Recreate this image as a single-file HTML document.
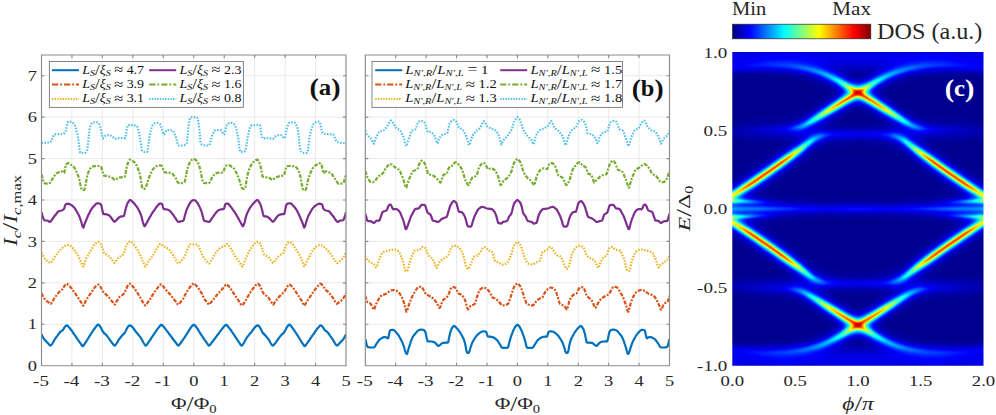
<!DOCTYPE html>
<html><head><meta charset="utf-8"><title>figure</title>
<style>html,body{margin:0;padding:0;background:#fff}svg{display:block}text{font-family:"Liberation Serif",serif}.wg stop{stop-color:#fff}</style></head><body>
<svg width="996" height="415" viewBox="0 0 996 415">
<rect width="996" height="415" fill="#fff"/>
<path d="M71.95 55.0V365.7M102.40 55.0V365.7M132.85 55.0V365.7M163.30 55.0V365.7M193.75 55.0V365.7M224.20 55.0V365.7M254.65 55.0V365.7M285.10 55.0V365.7M315.55 55.0V365.7M41.5 324.27H346.0M41.5 282.85H346.0M41.5 241.42H346.0M41.5 199.99H346.0M41.5 158.57H346.0M41.5 117.14H346.0M41.5 75.71H346.0" stroke="#eaeaea" stroke-width="1" fill="none"/>
<clipPath id="cp41"><rect x="41.5" y="55.0" width="304.5" height="310.7"/></clipPath>
<g clip-path="url(#cp41)" fill="none" stroke-width="2.2" stroke-linejoin="round">
<path d="M41.5 334.2L42.3 335.9L43.0 337.4L43.8 338.6L44.5 339.6L45.3 340.4L46.1 341.3L46.8 342.1L47.6 342.8L48.4 343.6L49.1 344.6L49.9 345.5L50.6 345.5L51.4 344.9L52.2 343.9L52.9 342.6L53.7 341.3L54.4 339.9L55.2 338.8L56.0 337.7L56.7 336.6L57.5 335.6L58.2 334.5L59.0 333.5L59.8 332.5L60.5 331.7L61.3 331.1L62.1 330.6L62.8 330.1L63.6 329.0L64.3 327.6L65.1 326.6L65.9 325.8L66.6 325.3L67.4 325.6L68.1 326.3L68.9 327.2L69.7 328.0L70.4 329.0L71.2 330.0L72.0 331.0L72.7 332.1L73.5 333.3L74.2 334.4L75.0 335.5L75.8 336.5L76.5 337.6L77.3 338.8L78.0 339.9L78.8 341.0L79.6 342.1L80.3 343.1L81.1 344.2L81.8 345.3L82.6 346.2L83.4 345.8L84.1 344.7L84.9 343.5L85.7 342.4L86.4 341.2L87.2 340.0L87.9 338.7L88.7 337.5L89.5 336.2L90.2 335.0L91.0 333.9L91.7 332.7L92.5 331.6L93.3 330.4L94.0 329.3L94.8 328.3L95.5 327.3L96.3 326.3L97.1 325.3L97.8 324.6L98.6 324.7L99.4 325.5L100.1 326.5L100.9 327.7L101.6 329.2L102.4 330.6L103.2 332.0L103.9 333.0L104.7 333.6L105.4 334.2L106.2 335.0L107.0 335.9L107.7 336.9L108.5 337.9L109.3 339.0L110.0 340.1L110.8 341.2L111.5 342.2L112.3 343.2L113.1 344.1L113.8 345.2L114.6 345.6L115.3 345.2L116.1 344.2L116.9 343.0L117.6 341.7L118.4 340.3L119.1 339.2L119.9 338.2L120.7 337.3L121.4 336.3L122.2 335.4L123.0 334.6L123.7 333.9L124.5 333.1L125.2 332.0L126.0 330.5L126.8 328.8L127.5 327.4L128.3 326.4L129.0 325.7L129.8 325.3L130.6 325.6L131.3 326.1L132.1 326.7L132.8 327.6L133.6 328.5L134.4 329.6L135.1 330.7L135.9 331.7L136.7 332.7L137.4 333.6L138.2 334.5L138.9 335.4L139.7 336.4L140.5 337.4L141.2 338.5L142.0 339.8L142.7 341.3L143.5 342.8L144.3 343.9L145.0 345.0L145.8 345.6L146.6 345.2L147.3 344.1L148.1 342.9L148.8 341.9L149.6 340.7L150.4 339.6L151.1 338.4L151.9 337.2L152.6 336.1L153.4 334.9L154.2 333.8L154.9 332.7L155.7 331.6L156.4 330.5L157.2 329.4L158.0 328.4L158.7 327.4L159.5 326.5L160.3 325.6L161.0 324.9L161.8 324.8L162.5 325.5L163.3 326.3L164.1 327.2L164.8 328.1L165.6 329.1L166.3 330.1L167.1 331.1L167.9 332.2L168.6 333.2L169.4 334.2L170.2 335.2L170.9 336.2L171.7 337.2L172.4 338.3L173.2 339.3L174.0 340.3L174.7 341.3L175.5 342.2L176.2 343.2L177.0 344.2L177.8 345.2L178.5 345.6L179.3 345.0L180.0 343.9L180.8 342.7L181.6 341.7L182.3 340.6L183.1 339.6L183.9 338.4L184.6 337.3L185.4 336.2L186.1 335.0L186.9 333.9L187.7 332.6L188.4 331.4L189.2 330.1L189.9 328.9L190.7 327.8L191.5 326.8L192.2 325.9L193.0 325.2L193.8 324.7L194.5 325.2L195.3 325.9L196.0 326.8L196.8 327.8L197.6 328.9L198.3 330.1L199.1 331.4L199.8 332.6L200.6 333.9L201.4 335.0L202.1 336.2L202.9 337.3L203.6 338.4L204.4 339.6L205.2 340.6L205.9 341.7L206.7 342.7L207.5 343.9L208.2 345.0L209.0 345.6L209.7 345.2L210.5 344.2L211.3 343.2L212.0 342.2L212.8 341.3L213.5 340.3L214.3 339.3L215.1 338.3L215.8 337.2L216.6 336.2L217.3 335.2L218.1 334.2L218.9 333.2L219.6 332.2L220.4 331.1L221.2 330.1L221.9 329.1L222.7 328.1L223.4 327.2L224.2 326.3L225.0 325.5L225.7 324.8L226.5 324.9L227.2 325.6L228.0 326.5L228.8 327.4L229.5 328.4L230.3 329.4L231.1 330.5L231.8 331.6L232.6 332.7L233.3 333.8L234.1 334.9L234.9 336.1L235.6 337.2L236.4 338.4L237.1 339.6L237.9 340.7L238.7 341.9L239.4 342.9L240.2 344.1L240.9 345.2L241.7 345.6L242.5 345.0L243.2 343.9L244.0 342.8L244.8 341.3L245.5 339.8L246.3 338.5L247.0 337.4L247.8 336.4L248.6 335.4L249.3 334.5L250.1 333.6L250.8 332.7L251.6 331.7L252.4 330.7L253.1 329.6L253.9 328.5L254.7 327.6L255.4 326.7L256.2 326.1L256.9 325.6L257.7 325.3L258.5 325.7L259.2 326.4L260.0 327.4L260.7 328.8L261.5 330.5L262.3 332.0L263.0 333.1L263.8 333.9L264.5 334.6L265.3 335.4L266.1 336.3L266.8 337.3L267.6 338.2L268.4 339.2L269.1 340.3L269.9 341.7L270.6 343.0L271.4 344.2L272.2 345.2L272.9 345.6L273.7 345.2L274.4 344.1L275.2 343.2L276.0 342.2L276.7 341.2L277.5 340.1L278.2 339.0L279.0 337.9L279.8 336.9L280.5 335.9L281.3 335.0L282.1 334.2L282.8 333.6L283.6 333.0L284.3 332.0L285.1 330.6L285.9 329.2L286.6 327.7L287.4 326.5L288.1 325.5L288.9 324.7L289.7 324.6L290.4 325.3L291.2 326.3L292.0 327.3L292.7 328.3L293.5 329.3L294.2 330.4L295.0 331.6L295.8 332.7L296.5 333.9L297.3 335.0L298.0 336.2L298.8 337.5L299.6 338.7L300.3 340.0L301.1 341.2L301.8 342.4L302.6 343.5L303.4 344.7L304.1 345.8L304.9 346.2L305.7 345.3L306.4 344.2L307.2 343.1L307.9 342.1L308.7 341.0L309.5 339.9L310.2 338.8L311.0 337.6L311.7 336.5L312.5 335.5L313.3 334.4L314.0 333.3L314.8 332.1L315.6 331.0L316.3 330.0L317.1 329.0L317.8 328.0L318.6 327.2L319.4 326.3L320.1 325.6L320.9 325.3L321.6 325.8L322.4 326.6L323.2 327.6L323.9 329.0L324.7 330.1L325.4 330.6L326.2 331.1L327.0 331.7L327.7 332.5L328.5 333.5L329.3 334.5L330.0 335.6L330.8 336.6L331.5 337.7L332.3 338.8L333.1 339.9L333.8 341.3L334.6 342.6L335.3 343.9L336.1 344.9L336.9 345.5L337.6 345.5L338.4 344.6L339.1 343.6L339.9 342.8L340.7 342.1L341.4 341.3L342.2 340.4L343.0 339.6L343.7 338.6L344.5 337.4L345.2 335.9L346.0 334.2" stroke="#0072BD"/>
<path d="M41.5 293.2L42.3 294.9L43.0 296.4L43.8 297.7L44.5 298.7L45.3 299.7L46.1 300.4L46.8 301.1L47.6 301.6L48.4 302.2L49.1 302.8L49.9 303.5L50.6 303.8L51.4 303.2L52.2 302.0L52.9 300.8L53.7 299.5L54.4 298.1L55.2 296.9L56.0 295.9L56.7 294.9L57.5 294.0L58.2 293.1L59.0 292.3L59.8 291.5L60.5 291.0L61.3 290.4L62.1 289.7L62.8 288.6L63.6 287.3L64.3 286.1L65.1 285.2L65.9 284.2L66.6 283.7L67.4 283.9L68.1 284.6L68.9 285.3L69.7 286.1L70.4 287.0L71.2 287.9L72.0 288.9L72.7 290.0L73.5 291.1L74.2 292.1L75.0 293.2L75.8 294.3L76.5 295.4L77.3 296.5L78.0 297.6L78.8 298.8L79.6 299.9L80.3 301.1L81.1 302.3L81.8 303.6L82.6 305.1L83.4 305.6L84.1 304.6L84.9 302.7L85.7 301.1L86.4 299.8L87.2 298.6L87.9 297.4L88.7 296.3L89.5 295.1L90.2 294.0L91.0 292.9L91.7 291.7L92.5 290.6L93.3 289.4L94.0 288.4L94.8 287.4L95.5 286.5L96.3 285.7L97.1 285.1L97.8 284.6L98.6 284.6L99.4 285.4L100.1 286.4L100.9 287.4L101.6 288.9L102.4 290.5L103.2 291.8L103.9 292.6L104.7 293.2L105.4 293.9L106.2 294.6L107.0 295.4L107.7 296.1L108.5 296.9L109.3 297.8L110.0 298.7L110.8 299.7L111.5 300.7L112.3 301.7L113.1 302.9L113.8 304.2L114.6 304.6L115.3 303.8L116.1 302.3L116.9 300.9L117.6 299.8L118.4 298.6L119.1 297.5L119.9 296.7L120.7 296.0L121.4 295.6L122.2 295.1L123.0 294.6L123.7 293.7L124.5 292.6L125.2 291.2L126.0 289.3L126.8 287.5L127.5 286.0L128.3 284.9L129.0 284.0L129.8 283.7L130.6 284.0L131.3 284.7L132.1 285.6L132.8 286.6L133.6 287.5L134.4 288.4L135.1 289.5L135.9 290.6L136.7 291.7L137.4 292.9L138.2 294.1L138.9 295.3L139.7 296.5L140.5 297.9L141.2 299.3L142.0 300.7L142.7 302.0L143.5 303.1L144.3 304.4L145.0 305.3L145.8 305.3L146.6 304.4L147.3 303.1L148.1 301.9L148.8 300.8L149.6 299.7L150.4 298.6L151.1 297.4L151.9 296.2L152.6 295.0L153.4 293.9L154.2 292.8L154.9 291.7L155.7 290.6L156.4 289.4L157.2 288.4L158.0 287.3L158.7 286.4L159.5 285.6L160.3 284.7L161.0 284.3L161.8 284.7L162.5 285.6L163.3 286.5L164.1 287.6L164.8 288.6L165.6 289.5L166.3 290.4L167.1 291.2L167.9 292.0L168.6 292.8L169.4 293.6L170.2 294.5L170.9 295.4L171.7 296.4L172.4 297.3L173.2 298.3L174.0 299.3L174.7 300.3L175.5 301.2L176.2 302.1L177.0 303.2L177.8 304.3L178.5 304.6L179.3 303.9L180.0 302.7L180.8 301.7L181.6 300.9L182.3 300.0L183.1 298.9L183.9 297.5L184.6 295.9L185.4 294.2L186.1 292.8L186.9 291.6L187.7 290.4L188.4 289.3L189.2 288.2L189.9 287.2L190.7 286.3L191.5 285.4L192.2 284.6L193.0 283.9L193.8 283.3L194.5 283.9L195.3 284.6L196.0 285.4L196.8 286.3L197.6 287.2L198.3 288.2L199.1 289.3L199.8 290.4L200.6 291.6L201.4 292.8L202.1 294.2L202.9 295.9L203.6 297.5L204.4 298.9L205.2 300.0L205.9 300.9L206.7 301.7L207.5 302.7L208.2 303.9L209.0 304.6L209.7 304.3L210.5 303.2L211.3 302.1L212.0 301.2L212.8 300.3L213.5 299.3L214.3 298.3L215.1 297.3L215.8 296.4L216.6 295.4L217.3 294.5L218.1 293.6L218.9 292.8L219.6 292.0L220.4 291.2L221.2 290.4L221.9 289.5L222.7 288.6L223.4 287.6L224.2 286.5L225.0 285.6L225.7 284.7L226.5 284.3L227.2 284.7L228.0 285.6L228.8 286.4L229.5 287.3L230.3 288.4L231.1 289.4L231.8 290.6L232.6 291.7L233.3 292.8L234.1 293.9L234.9 295.0L235.6 296.2L236.4 297.4L237.1 298.6L237.9 299.7L238.7 300.8L239.4 301.9L240.2 303.1L240.9 304.4L241.7 305.3L242.5 305.3L243.2 304.4L244.0 303.1L244.8 302.0L245.5 300.7L246.3 299.3L247.0 297.9L247.8 296.5L248.6 295.3L249.3 294.1L250.1 292.9L250.8 291.7L251.6 290.6L252.4 289.5L253.1 288.4L253.9 287.5L254.7 286.6L255.4 285.6L256.2 284.7L256.9 284.0L257.7 283.7L258.5 284.0L259.2 284.9L260.0 286.0L260.7 287.5L261.5 289.3L262.3 291.2L263.0 292.6L263.8 293.7L264.5 294.6L265.3 295.1L266.1 295.6L266.8 296.0L267.6 296.7L268.4 297.5L269.1 298.6L269.9 299.8L270.6 300.9L271.4 302.3L272.2 303.8L272.9 304.6L273.7 304.2L274.4 302.9L275.2 301.7L276.0 300.7L276.7 299.7L277.5 298.7L278.2 297.8L279.0 296.9L279.8 296.1L280.5 295.4L281.3 294.6L282.1 293.9L282.8 293.2L283.6 292.6L284.3 291.8L285.1 290.5L285.9 288.9L286.6 287.4L287.4 286.4L288.1 285.4L288.9 284.6L289.7 284.6L290.4 285.1L291.2 285.7L292.0 286.5L292.7 287.4L293.5 288.4L294.2 289.4L295.0 290.6L295.8 291.7L296.5 292.9L297.3 294.0L298.0 295.1L298.8 296.3L299.6 297.4L300.3 298.6L301.1 299.8L301.8 301.1L302.6 302.7L303.4 304.6L304.1 305.6L304.9 305.1L305.7 303.6L306.4 302.3L307.2 301.1L307.9 299.9L308.7 298.8L309.5 297.6L310.2 296.5L311.0 295.4L311.7 294.3L312.5 293.2L313.3 292.1L314.0 291.1L314.8 290.0L315.6 288.9L316.3 287.9L317.1 287.0L317.8 286.1L318.6 285.3L319.4 284.6L320.1 283.9L320.9 283.7L321.6 284.2L322.4 285.2L323.2 286.1L323.9 287.3L324.7 288.6L325.4 289.7L326.2 290.4L327.0 291.0L327.7 291.5L328.5 292.3L329.3 293.1L330.0 294.0L330.8 294.9L331.5 295.9L332.3 296.9L333.1 298.1L333.8 299.5L334.6 300.8L335.3 302.0L336.1 303.2L336.9 303.8L337.6 303.5L338.4 302.8L339.1 302.2L339.9 301.6L340.7 301.1L341.4 300.4L342.2 299.7L343.0 298.7L343.7 297.7L344.5 296.4L345.2 294.9L346.0 293.2" stroke="#D95319" stroke-dasharray="4 1.4 2 1.4"/>
<path d="M41.5 252.6L42.3 254.1L43.0 255.5L43.8 256.9L44.5 258.2L45.3 259.2L46.1 259.9L46.8 260.5L47.6 261.1L48.4 261.7L49.1 262.4L49.9 262.9L50.6 262.8L51.4 262.1L52.2 261.0L52.9 259.9L53.7 258.8L54.4 257.6L55.2 256.4L56.0 255.3L56.7 254.3L57.5 253.3L58.2 252.4L59.0 251.5L59.8 250.6L60.5 249.8L61.3 249.0L62.1 248.2L62.8 247.5L63.6 246.9L64.3 246.3L65.1 245.7L65.9 245.2L66.6 244.9L67.4 245.0L68.1 245.1L68.9 245.4L69.7 245.7L70.4 246.0L71.2 246.5L72.0 247.1L72.7 248.0L73.5 248.9L74.2 249.8L75.0 250.9L75.8 252.0L76.5 253.2L77.3 254.5L78.0 255.9L78.8 257.5L79.6 259.1L80.3 260.8L81.1 262.4L81.8 264.0L82.6 265.8L83.4 266.4L84.1 264.5L84.9 261.7L85.7 259.9L86.4 258.3L87.2 256.8L87.9 255.4L88.7 254.0L89.5 252.7L90.2 251.5L91.0 250.2L91.7 249.1L92.5 247.8L93.3 246.6L94.0 245.5L94.8 244.5L95.5 243.6L96.3 242.9L97.1 242.3L97.8 241.9L98.6 241.9L99.4 242.5L100.1 243.3L100.9 244.4L101.6 246.1L102.4 248.0L103.2 250.2L103.9 252.4L104.7 253.6L105.4 254.1L106.2 254.4L107.0 254.9L107.7 255.4L108.5 255.9L109.3 256.5L110.0 257.3L110.8 258.3L111.5 259.3L112.3 260.3L113.1 261.5L113.8 262.6L114.6 262.9L115.3 262.1L116.1 260.9L116.9 259.9L117.6 258.8L118.4 257.8L119.1 257.1L119.9 256.6L120.7 256.1L121.4 255.6L122.2 255.2L123.0 254.7L123.7 253.8L124.5 251.6L125.2 248.8L126.0 246.5L126.8 245.0L127.5 243.5L128.3 242.4L129.0 241.9L129.8 241.9L130.6 241.9L131.3 242.0L132.1 242.5L132.8 243.5L133.6 244.5L134.4 245.5L135.1 246.5L135.9 247.5L136.7 248.5L137.4 249.7L138.2 250.9L138.9 252.4L139.7 253.9L140.5 255.6L141.2 257.4L142.0 259.2L142.7 261.1L143.5 262.9L144.3 265.3L145.0 266.5L145.8 266.0L146.6 264.8L147.3 263.4L148.1 262.1L148.8 261.1L149.6 260.1L150.4 259.1L151.1 258.1L151.9 257.0L152.6 255.9L153.4 254.7L154.2 253.3L154.9 251.8L155.7 250.4L156.4 249.0L157.2 247.7L158.0 246.6L158.7 245.5L159.5 244.5L160.3 244.1L161.0 244.3L161.8 244.7L162.5 245.6L163.3 246.4L164.1 246.7L164.8 246.8L165.6 247.1L166.3 247.5L167.1 248.0L167.9 248.6L168.6 249.3L169.4 250.0L170.2 250.8L170.9 251.7L171.7 252.8L172.4 254.0L173.2 255.3L174.0 256.7L174.7 258.0L175.5 259.2L176.2 260.6L177.0 262.0L177.8 263.1L178.5 263.4L179.3 263.0L180.0 262.3L180.8 261.4L181.6 260.5L182.3 259.6L183.1 258.6L183.9 257.4L184.6 256.2L185.4 254.7L186.1 252.8L186.9 250.8L187.7 248.9L188.4 247.3L189.2 245.8L189.9 244.6L190.7 244.3L191.5 244.3L192.2 244.3L193.0 244.3L193.8 244.3L194.5 244.3L195.3 244.3L196.0 244.3L196.8 244.3L197.6 244.6L198.3 245.8L199.1 247.3L199.8 248.9L200.6 250.8L201.4 252.8L202.1 254.7L202.9 256.2L203.6 257.4L204.4 258.6L205.2 259.6L205.9 260.5L206.7 261.4L207.5 262.3L208.2 263.0L209.0 263.4L209.7 263.1L210.5 262.0L211.3 260.6L212.0 259.2L212.8 258.0L213.5 256.7L214.3 255.3L215.1 254.0L215.8 252.8L216.6 251.7L217.3 250.8L218.1 250.0L218.9 249.3L219.6 248.6L220.4 248.0L221.2 247.5L221.9 247.1L222.7 246.8L223.4 246.7L224.2 246.4L225.0 245.6L225.7 244.7L226.5 244.3L227.2 244.1L228.0 244.5L228.8 245.5L229.5 246.6L230.3 247.7L231.1 249.0L231.8 250.4L232.6 251.8L233.3 253.3L234.1 254.7L234.9 255.9L235.6 257.0L236.4 258.1L237.1 259.1L237.9 260.1L238.7 261.1L239.4 262.1L240.2 263.4L240.9 264.8L241.7 266.0L242.5 266.5L243.2 265.3L244.0 262.9L244.8 261.1L245.5 259.2L246.3 257.4L247.0 255.6L247.8 253.9L248.6 252.4L249.3 250.9L250.1 249.7L250.8 248.5L251.6 247.5L252.4 246.5L253.1 245.5L253.9 244.5L254.7 243.5L255.4 242.5L256.2 242.0L256.9 241.9L257.7 241.9L258.5 241.9L259.2 242.4L260.0 243.5L260.7 245.0L261.5 246.5L262.3 248.8L263.0 251.6L263.8 253.8L264.5 254.7L265.3 255.2L266.1 255.6L266.8 256.1L267.6 256.6L268.4 257.1L269.1 257.8L269.9 258.8L270.6 259.9L271.4 260.9L272.2 262.1L272.9 262.9L273.7 262.6L274.4 261.5L275.2 260.3L276.0 259.3L276.7 258.3L277.5 257.3L278.2 256.5L279.0 255.9L279.8 255.4L280.5 254.9L281.3 254.4L282.1 254.1L282.8 253.6L283.6 252.4L284.3 250.2L285.1 248.0L285.9 246.1L286.6 244.4L287.4 243.3L288.1 242.5L288.9 241.9L289.7 241.9L290.4 242.3L291.2 242.9L292.0 243.6L292.7 244.5L293.5 245.5L294.2 246.6L295.0 247.8L295.8 249.1L296.5 250.2L297.3 251.5L298.0 252.7L298.8 254.0L299.6 255.4L300.3 256.8L301.1 258.3L301.8 259.9L302.6 261.7L303.4 264.5L304.1 266.4L304.9 265.8L305.7 264.0L306.4 262.4L307.2 260.8L307.9 259.1L308.7 257.5L309.5 255.9L310.2 254.5L311.0 253.2L311.7 252.0L312.5 250.9L313.3 249.8L314.0 248.9L314.8 248.0L315.6 247.1L316.3 246.5L317.1 246.0L317.8 245.7L318.6 245.4L319.4 245.1L320.1 245.0L320.9 244.9L321.6 245.2L322.4 245.7L323.2 246.3L323.9 246.9L324.7 247.5L325.4 248.2L326.2 249.0L327.0 249.8L327.7 250.6L328.5 251.5L329.3 252.4L330.0 253.3L330.8 254.3L331.5 255.3L332.3 256.4L333.1 257.6L333.8 258.8L334.6 259.9L335.3 261.0L336.1 262.1L336.9 262.8L337.6 262.9L338.4 262.4L339.1 261.7L339.9 261.1L340.7 260.5L341.4 259.9L342.2 259.2L343.0 258.2L343.7 256.9L344.5 255.5L345.2 254.1L346.0 252.6" stroke="#EDB120" stroke-dasharray="1.5 1.5"/>
<path d="M41.5 212.0L42.3 215.1L43.0 217.5L43.8 219.5L44.5 220.2L45.3 220.4L46.1 220.5L46.8 220.5L47.6 220.7L48.4 221.1L49.1 221.7L49.9 221.9L50.6 221.5L51.4 220.5L52.2 219.5L52.9 218.3L53.7 217.2L54.4 216.2L55.2 215.2L56.0 214.3L56.7 213.3L57.5 212.3L58.2 211.5L59.0 211.1L59.8 210.9L60.5 210.7L61.3 210.5L62.1 210.2L62.8 209.9L63.6 209.4L64.3 208.3L65.1 205.3L65.9 204.0L66.6 203.9L67.4 203.8L68.1 203.7L68.9 203.8L69.7 204.1L70.4 204.6L71.2 205.1L72.0 205.5L72.7 206.1L73.5 206.8L74.2 207.6L75.0 208.6L75.8 209.8L76.5 211.1L77.3 212.4L78.0 213.8L78.8 215.3L79.6 217.0L80.3 219.0L81.1 221.3L81.8 223.7L82.6 226.6L83.4 227.7L84.1 225.6L84.9 223.2L85.7 221.3L86.4 219.5L87.2 217.7L87.9 216.0L88.7 214.3L89.5 212.7L90.2 211.2L91.0 209.9L91.7 208.7L92.5 207.7L93.3 206.8L94.0 206.0L94.8 205.3L95.5 204.4L96.3 203.7L97.1 203.3L97.8 203.3L98.6 203.4L99.4 203.5L100.1 203.8L100.9 204.4L101.6 206.2L102.4 210.6L103.2 213.9L103.9 214.1L104.7 214.2L105.4 214.2L106.2 214.3L107.0 214.4L107.7 214.7L108.5 215.1L109.3 215.5L110.0 216.2L110.8 217.2L111.5 218.3L112.3 219.3L113.1 220.5L113.8 221.4L114.6 221.7L115.3 221.3L116.1 220.5L116.9 219.6L117.6 218.9L118.4 218.1L119.1 217.4L119.9 216.9L120.7 216.6L121.4 216.4L122.2 216.3L123.0 216.3L123.7 216.1L124.5 214.1L125.2 210.8L126.0 207.8L126.8 205.2L127.5 203.4L128.3 202.1L129.0 201.0L129.8 200.1L130.6 200.1L131.3 200.6L132.1 201.3L132.8 202.1L133.6 202.8L134.4 203.7L135.1 204.6L135.9 205.6L136.7 206.6L137.4 207.7L138.2 209.0L138.9 210.3L139.7 211.9L140.5 213.7L141.2 215.7L142.0 218.4L142.7 221.6L143.5 224.2L144.3 226.2L145.0 226.1L145.8 224.6L146.6 223.1L147.3 221.7L148.1 220.3L148.8 219.0L149.6 217.6L150.4 216.2L151.1 214.9L151.9 213.7L152.6 212.5L153.4 211.4L154.2 210.3L154.9 209.3L155.7 208.2L156.4 207.1L157.2 206.2L158.0 205.2L158.7 204.3L159.5 203.6L160.3 203.5L161.0 203.6L161.8 203.9L162.5 204.9L163.3 208.5L164.1 209.2L164.8 209.2L165.6 209.3L166.3 209.3L167.1 209.5L167.9 209.7L168.6 210.1L169.4 210.5L170.2 211.2L170.9 212.0L171.7 212.9L172.4 213.9L173.2 214.9L174.0 216.0L174.7 217.1L175.5 218.2L176.2 219.3L177.0 220.5L177.8 221.6L178.5 221.9L179.3 221.8L180.0 221.6L180.8 221.4L181.6 221.2L182.3 221.1L183.1 220.8L183.9 219.7L184.6 216.6L185.4 213.8L186.1 211.2L186.9 209.2L187.7 207.4L188.4 205.9L189.2 204.4L189.9 203.1L190.7 202.1L191.5 201.2L192.2 200.6L193.0 200.2L193.8 200.0L194.5 200.2L195.3 200.6L196.0 201.2L196.8 202.1L197.6 203.1L198.3 204.4L199.1 205.9L199.8 207.4L200.6 209.2L201.4 211.2L202.1 213.8L202.9 216.6L203.6 219.7L204.4 220.8L205.2 221.1L205.9 221.2L206.7 221.4L207.5 221.6L208.2 221.8L209.0 221.9L209.7 221.6L210.5 220.5L211.3 219.3L212.0 218.2L212.8 217.1L213.5 216.0L214.3 214.9L215.1 213.9L215.8 212.9L216.6 212.0L217.3 211.2L218.1 210.5L218.9 210.1L219.6 209.7L220.4 209.5L221.2 209.3L221.9 209.3L222.7 209.2L223.4 209.2L224.2 208.5L225.0 204.9L225.7 203.9L226.5 203.6L227.2 203.5L228.0 203.6L228.8 204.3L229.5 205.2L230.3 206.2L231.1 207.1L231.8 208.2L232.6 209.3L233.3 210.3L234.1 211.4L234.9 212.5L235.6 213.7L236.4 214.9L237.1 216.2L237.9 217.6L238.7 219.0L239.4 220.3L240.2 221.7L240.9 223.1L241.7 224.6L242.5 226.1L243.2 226.2L244.0 224.2L244.8 221.6L245.5 218.4L246.3 215.7L247.0 213.7L247.8 211.9L248.6 210.3L249.3 209.0L250.1 207.7L250.8 206.6L251.6 205.6L252.4 204.6L253.1 203.7L253.9 202.8L254.7 202.1L255.4 201.3L256.2 200.6L256.9 200.1L257.7 200.1L258.5 201.0L259.2 202.1L260.0 203.4L260.7 205.2L261.5 207.8L262.3 210.8L263.0 214.1L263.8 216.1L264.5 216.3L265.3 216.3L266.1 216.4L266.8 216.6L267.6 216.9L268.4 217.4L269.1 218.1L269.9 218.9L270.6 219.6L271.4 220.5L272.2 221.3L272.9 221.7L273.7 221.4L274.4 220.5L275.2 219.3L276.0 218.3L276.7 217.2L277.5 216.2L278.2 215.5L279.0 215.1L279.8 214.7L280.5 214.4L281.3 214.3L282.1 214.2L282.8 214.2L283.6 214.1L284.3 213.9L285.1 210.6L285.9 206.2L286.6 204.4L287.4 203.8L288.1 203.5L288.9 203.4L289.7 203.3L290.4 203.3L291.2 203.7L292.0 204.4L292.7 205.3L293.5 206.0L294.2 206.8L295.0 207.7L295.8 208.7L296.5 209.9L297.3 211.2L298.0 212.7L298.8 214.3L299.6 216.0L300.3 217.7L301.1 219.5L301.8 221.3L302.6 223.2L303.4 225.6L304.1 227.7L304.9 226.6L305.7 223.7L306.4 221.3L307.2 219.0L307.9 217.0L308.7 215.3L309.5 213.8L310.2 212.4L311.0 211.1L311.7 209.8L312.5 208.6L313.3 207.6L314.0 206.8L314.8 206.1L315.6 205.5L316.3 205.1L317.1 204.6L317.8 204.1L318.6 203.8L319.4 203.7L320.1 203.8L320.9 203.9L321.6 204.0L322.4 205.3L323.2 208.3L323.9 209.4L324.7 209.9L325.4 210.2L326.2 210.5L327.0 210.7L327.7 210.9L328.5 211.1L329.3 211.5L330.0 212.3L330.8 213.3L331.5 214.3L332.3 215.2L333.1 216.2L333.8 217.2L334.6 218.3L335.3 219.5L336.1 220.5L336.9 221.5L337.6 221.9L338.4 221.7L339.1 221.1L339.9 220.7L340.7 220.5L341.4 220.5L342.2 220.4L343.0 220.2L343.7 219.5L344.5 217.5L345.2 215.1L346.0 212.0" stroke="#7E2F8E"/>
<path d="M41.5 174.3L42.3 177.3L43.0 179.9L43.8 182.3L44.5 183.2L45.3 183.4L46.1 183.6L46.8 183.6L47.6 183.6L48.4 183.6L49.1 183.6L49.9 183.0L50.6 181.8L51.4 180.6L52.2 179.3L52.9 178.1L53.7 176.9L54.4 175.8L55.2 174.7L56.0 173.8L56.7 173.2L57.5 172.7L58.2 172.4L59.0 172.0L59.8 171.7L60.5 171.5L61.3 171.4L62.1 171.5L62.8 171.8L63.6 173.0L64.3 172.7L65.1 168.5L65.9 164.8L66.6 163.9L67.4 163.4L68.1 163.1L68.9 163.3L69.7 163.7L70.4 164.3L71.2 164.9L72.0 165.4L72.7 165.9L73.5 166.6L74.2 167.4L75.0 168.7L75.8 170.2L76.5 171.8L77.3 173.5L78.0 175.4L78.8 177.6L79.6 180.7L80.3 184.1L81.1 187.9L81.8 189.8L82.6 190.2L83.4 190.2L84.1 189.9L84.9 188.4L85.7 184.2L86.4 180.2L87.2 176.2L87.9 173.4L88.7 171.4L89.5 169.9L90.2 168.6L91.0 167.6L91.7 167.0L92.5 166.6L93.3 166.4L94.0 166.2L94.8 166.2L95.5 166.1L96.3 166.0L97.1 166.0L97.8 166.0L98.6 166.0L99.4 166.0L100.1 166.2L100.9 166.8L101.6 168.1L102.4 171.0L103.2 174.4L103.9 175.6L104.7 175.8L105.4 175.8L106.2 175.9L107.0 176.0L107.7 176.2L108.5 176.3L109.3 176.6L110.0 176.8L110.8 177.1L111.5 177.5L112.3 177.9L113.1 178.5L113.8 179.3L114.6 179.8L115.3 179.8L116.1 179.3L116.9 178.8L117.6 178.3L118.4 177.8L119.1 177.6L119.9 177.4L120.7 177.3L121.4 177.3L122.2 177.2L123.0 177.1L123.7 177.0L124.5 176.9L125.2 175.8L126.0 171.0L126.8 166.8L127.5 164.3L128.3 162.5L129.0 161.0L129.8 159.7L130.6 159.7L131.3 160.0L132.1 160.5L132.8 161.1L133.6 161.6L134.4 162.3L135.1 163.2L135.9 164.2L136.7 165.6L137.4 167.4L138.2 169.2L138.9 171.2L139.7 173.7L140.5 177.4L141.2 181.9L142.0 187.0L142.7 188.5L143.5 189.0L144.3 188.9L145.0 188.6L145.8 187.6L146.6 185.2L147.3 182.8L148.1 180.3L148.8 178.0L149.6 176.2L150.4 174.4L151.1 172.8L151.9 171.3L152.6 169.8L153.4 168.7L154.2 168.0L154.9 167.4L155.7 166.9L156.4 166.3L157.2 165.8L158.0 165.4L158.7 165.4L159.5 165.4L160.3 165.4L161.0 165.5L161.8 165.9L162.5 166.9L163.3 169.8L164.1 171.7L164.8 172.5L165.6 172.5L166.3 172.6L167.1 172.6L167.9 172.6L168.6 172.7L169.4 172.8L170.2 172.9L170.9 173.1L171.7 173.4L172.4 173.8L173.2 174.6L174.0 175.6L174.7 176.5L175.5 177.7L176.2 179.1L177.0 180.9L177.8 182.4L178.5 183.0L179.3 183.1L180.0 183.2L180.8 183.2L181.6 183.2L182.3 183.2L183.1 183.0L183.9 182.7L184.6 182.2L185.4 179.1L186.1 175.2L186.9 170.9L187.7 167.9L188.4 165.6L189.2 163.7L189.9 162.2L190.7 161.1L191.5 160.2L192.2 159.6L193.0 159.2L193.8 159.0L194.5 159.2L195.3 159.6L196.0 160.2L196.8 161.1L197.6 162.2L198.3 163.7L199.1 165.6L199.8 167.9L200.6 170.9L201.4 175.2L202.1 179.1L202.9 182.2L203.6 182.7L204.4 183.0L205.2 183.2L205.9 183.2L206.7 183.2L207.5 183.2L208.2 183.1L209.0 183.0L209.7 182.4L210.5 180.9L211.3 179.1L212.0 177.7L212.8 176.5L213.5 175.6L214.3 174.6L215.1 173.8L215.8 173.4L216.6 173.1L217.3 172.9L218.1 172.8L218.9 172.7L219.6 172.6L220.4 172.6L221.2 172.6L221.9 172.5L222.7 172.5L223.4 171.7L224.2 169.8L225.0 166.9L225.7 165.9L226.5 165.5L227.2 165.4L228.0 165.4L228.8 165.4L229.5 165.4L230.3 165.8L231.1 166.3L231.8 166.9L232.6 167.4L233.3 168.0L234.1 168.7L234.9 169.8L235.6 171.3L236.4 172.8L237.1 174.4L237.9 176.2L238.7 178.0L239.4 180.3L240.2 182.8L240.9 185.2L241.7 187.6L242.5 188.6L243.2 188.9L244.0 189.0L244.8 188.5L245.5 187.0L246.3 181.9L247.0 177.4L247.8 173.7L248.6 171.2L249.3 169.2L250.1 167.4L250.8 165.6L251.6 164.2L252.4 163.2L253.1 162.3L253.9 161.6L254.7 161.1L255.4 160.5L256.2 160.0L256.9 159.7L257.7 159.7L258.5 161.0L259.2 162.5L260.0 164.3L260.7 166.8L261.5 171.0L262.3 175.8L263.0 176.9L263.8 177.0L264.5 177.1L265.3 177.2L266.1 177.3L266.8 177.3L267.6 177.4L268.4 177.6L269.1 177.8L269.9 178.3L270.6 178.8L271.4 179.3L272.2 179.8L272.9 179.8L273.7 179.3L274.4 178.5L275.2 177.9L276.0 177.5L276.7 177.1L277.5 176.8L278.2 176.6L279.0 176.3L279.8 176.2L280.5 176.0L281.3 175.9L282.1 175.8L282.8 175.8L283.6 175.6L284.3 174.4L285.1 171.0L285.9 168.1L286.6 166.8L287.4 166.2L288.1 166.0L288.9 166.0L289.7 166.0L290.4 166.0L291.2 166.0L292.0 166.1L292.7 166.2L293.5 166.2L294.2 166.4L295.0 166.6L295.8 167.0L296.5 167.6L297.3 168.6L298.0 169.9L298.8 171.4L299.6 173.4L300.3 176.2L301.1 180.2L301.8 184.2L302.6 188.4L303.4 189.9L304.1 190.2L304.9 190.2L305.7 189.8L306.4 187.9L307.2 184.1L307.9 180.7L308.7 177.6L309.5 175.4L310.2 173.5L311.0 171.8L311.7 170.2L312.5 168.7L313.3 167.4L314.0 166.6L314.8 165.9L315.6 165.4L316.3 164.9L317.1 164.3L317.8 163.7L318.6 163.3L319.4 163.1L320.1 163.4L320.9 163.9L321.6 164.8L322.4 168.5L323.2 172.7L323.9 173.0L324.7 171.8L325.4 171.5L326.2 171.4L327.0 171.5L327.7 171.7L328.5 172.0L329.3 172.4L330.0 172.7L330.8 173.2L331.5 173.8L332.3 174.7L333.1 175.8L333.8 176.9L334.6 178.1L335.3 179.3L336.1 180.6L336.9 181.8L337.6 183.0L338.4 183.6L339.1 183.6L339.9 183.6L340.7 183.6L341.4 183.6L342.2 183.4L343.0 183.2L343.7 182.3L344.5 179.9L345.2 177.3L346.0 174.3" stroke="#77AC30" stroke-dasharray="4 1.4 2 1.4"/>
<path d="M41.5 143.2L42.3 143.2L43.0 143.2L43.8 143.2L44.5 143.2L45.3 143.0L46.1 142.9L46.8 142.8L47.6 142.6L48.4 142.5L49.1 142.4L49.9 142.2L50.6 142.0L51.4 140.8L52.2 138.9L52.9 137.3L53.7 135.5L54.4 134.4L55.2 134.3L56.0 134.2L56.7 134.2L57.5 134.2L58.2 134.2L59.0 134.1L59.8 134.1L60.5 134.1L61.3 134.1L62.1 134.0L62.8 134.0L63.6 133.9L64.3 133.2L65.1 132.4L65.9 130.6L66.6 126.7L67.4 123.0L68.1 121.8L68.9 121.7L69.7 121.7L70.4 121.7L71.2 121.9L72.0 122.1L72.7 122.7L73.5 123.5L74.2 124.4L75.0 125.9L75.8 128.4L76.5 131.0L77.3 133.7L78.0 137.2L78.8 143.6L79.6 150.4L80.3 152.7L81.1 152.9L81.8 153.0L82.6 153.0L83.4 153.0L84.1 153.0L84.9 152.9L85.7 152.4L86.4 151.6L87.2 150.1L87.9 144.4L88.7 137.0L89.5 130.0L90.2 126.9L91.0 125.1L91.7 123.4L92.5 122.7L93.3 122.5L94.0 122.4L94.8 122.3L95.5 122.3L96.3 122.4L97.1 122.4L97.8 122.5L98.6 123.1L99.4 124.6L100.1 126.5L100.9 129.6L101.6 133.6L102.4 137.5L103.2 138.4L103.9 137.7L104.7 136.9L105.4 135.8L106.2 135.3L107.0 135.2L107.7 135.2L108.5 135.2L109.3 135.2L110.0 135.3L110.8 135.5L111.5 135.9L112.3 136.6L113.1 137.3L113.8 138.2L114.6 138.8L115.3 138.8L116.1 138.7L116.9 138.4L117.6 138.3L118.4 138.2L119.1 138.1L119.9 138.1L120.7 138.1L121.4 138.1L122.2 138.2L123.0 138.3L123.7 138.2L124.5 138.2L125.2 138.1L126.0 134.7L126.8 129.3L127.5 125.4L128.3 125.1L129.0 125.1L129.8 125.0L130.6 125.0L131.3 125.0L132.1 125.1L132.8 125.2L133.6 125.2L134.4 125.3L135.1 125.5L135.9 125.6L136.7 125.9L137.4 126.9L138.2 129.8L138.9 132.8L139.7 136.4L140.5 141.1L141.2 146.1L142.0 150.6L142.7 151.3L143.5 151.7L144.3 151.9L145.0 151.9L145.8 151.9L146.6 151.9L147.3 151.8L148.1 147.9L148.8 141.7L149.6 136.3L150.4 132.3L151.1 129.3L151.9 126.9L152.6 125.2L153.4 124.2L154.2 123.5L154.9 123.2L155.7 122.9L156.4 122.7L157.2 122.8L158.0 123.0L158.7 123.3L159.5 123.7L160.3 124.4L161.0 126.0L161.8 128.8L162.5 132.2L163.3 134.4L164.1 134.3L164.8 132.9L165.6 131.4L166.3 130.4L167.1 130.3L167.9 130.2L168.6 130.2L169.4 130.2L170.2 130.2L170.9 130.2L171.7 130.3L172.4 130.4L173.2 130.9L174.0 132.6L174.7 134.3L175.5 136.0L176.2 138.3L177.0 141.4L177.8 144.3L178.5 145.5L179.3 145.5L180.0 145.5L180.8 145.5L181.6 145.5L182.3 145.5L183.1 145.3L183.9 145.1L184.6 144.9L185.4 144.7L186.1 144.2L186.9 143.1L187.7 134.5L188.4 126.9L189.2 121.5L189.9 118.4L190.7 117.4L191.5 117.2L192.2 117.1L193.0 117.1L193.8 117.1L194.5 117.1L195.3 117.1L196.0 117.2L196.8 117.4L197.6 118.4L198.3 121.5L199.1 126.9L199.8 134.5L200.6 143.1L201.4 144.2L202.1 144.7L202.9 144.9L203.6 145.1L204.4 145.3L205.2 145.5L205.9 145.5L206.7 145.5L207.5 145.5L208.2 145.5L209.0 145.5L209.7 144.3L210.5 141.4L211.3 138.3L212.0 136.0L212.8 134.3L213.5 132.6L214.3 130.9L215.1 130.4L215.8 130.3L216.6 130.2L217.3 130.2L218.1 130.2L218.9 130.2L219.6 130.2L220.4 130.3L221.2 130.4L221.9 131.4L222.7 132.9L223.4 134.3L224.2 134.4L225.0 132.2L225.7 128.8L226.5 126.0L227.2 124.4L228.0 123.7L228.8 123.3L229.5 123.0L230.3 122.8L231.1 122.7L231.8 122.9L232.6 123.2L233.3 123.5L234.1 124.2L234.9 125.2L235.6 126.9L236.4 129.3L237.1 132.3L237.9 136.3L238.7 141.7L239.4 147.9L240.2 151.8L240.9 151.9L241.7 151.9L242.5 151.9L243.2 151.9L244.0 151.7L244.8 151.3L245.5 150.6L246.3 146.1L247.0 141.1L247.8 136.4L248.6 132.8L249.3 129.8L250.1 126.9L250.8 125.9L251.6 125.6L252.4 125.5L253.1 125.3L253.9 125.2L254.7 125.2L255.4 125.1L256.2 125.0L256.9 125.0L257.7 125.0L258.5 125.1L259.2 125.1L260.0 125.4L260.7 129.3L261.5 134.7L262.3 138.1L263.0 138.2L263.8 138.2L264.5 138.3L265.3 138.2L266.1 138.1L266.8 138.1L267.6 138.1L268.4 138.1L269.1 138.2L269.9 138.3L270.6 138.4L271.4 138.7L272.2 138.8L272.9 138.8L273.7 138.2L274.4 137.3L275.2 136.6L276.0 135.9L276.7 135.5L277.5 135.3L278.2 135.2L279.0 135.2L279.8 135.2L280.5 135.2L281.3 135.3L282.1 135.8L282.8 136.9L283.6 137.7L284.3 138.4L285.1 137.5L285.9 133.6L286.6 129.6L287.4 126.5L288.1 124.6L288.9 123.1L289.7 122.5L290.4 122.4L291.2 122.4L292.0 122.3L292.7 122.3L293.5 122.4L294.2 122.5L295.0 122.7L295.8 123.4L296.5 125.1L297.3 126.9L298.0 130.0L298.8 137.0L299.6 144.4L300.3 150.1L301.1 151.6L301.8 152.4L302.6 152.9L303.4 153.0L304.1 153.0L304.9 153.0L305.7 153.0L306.4 152.9L307.2 152.7L307.9 150.4L308.7 143.6L309.5 137.2L310.2 133.7L311.0 131.0L311.7 128.4L312.5 125.9L313.3 124.4L314.0 123.5L314.8 122.7L315.6 122.1L316.3 121.9L317.1 121.7L317.8 121.7L318.6 121.7L319.4 121.8L320.1 123.0L320.9 126.7L321.6 130.6L322.4 132.4L323.2 133.2L323.9 133.9L324.7 134.0L325.4 134.0L326.2 134.1L327.0 134.1L327.7 134.1L328.5 134.1L329.3 134.2L330.0 134.2L330.8 134.2L331.5 134.2L332.3 134.3L333.1 134.4L333.8 135.5L334.6 137.3L335.3 138.9L336.1 140.8L336.9 142.0L337.6 142.2L338.4 142.4L339.1 142.5L339.9 142.6L340.7 142.8L341.4 142.9L342.2 143.0L343.0 143.2L343.7 143.2L344.5 143.2L345.2 143.2L346.0 143.2" stroke="#4DBEEE" stroke-dasharray="1.5 1.5"/>
</g>
<path d="M41.5 55.0H346.0V365.7H41.5ZM41.50 365.7v-3M41.50 55.0v3M71.95 365.7v-3M71.95 55.0v3M102.40 365.7v-3M102.40 55.0v3M132.85 365.7v-3M132.85 55.0v3M163.30 365.7v-3M163.30 55.0v3M193.75 365.7v-3M193.75 55.0v3M224.20 365.7v-3M224.20 55.0v3M254.65 365.7v-3M254.65 55.0v3M285.10 365.7v-3M285.10 55.0v3M315.55 365.7v-3M315.55 55.0v3M346.00 365.7v-3M346.00 55.0v3M41.5 365.70h3M346.0 365.70h-3M41.5 324.27h3M346.0 324.27h-3M41.5 282.85h3M346.0 282.85h-3M41.5 241.42h3M346.0 241.42h-3M41.5 199.99h3M346.0 199.99h-3M41.5 158.57h3M346.0 158.57h-3M41.5 117.14h3M346.0 117.14h-3M41.5 75.71h3M346.0 75.71h-3" stroke="#8c8c8c" stroke-width="1.15" fill="none"/>
<text transform="translate(41.00 385.60) scale(1.220 1)" text-anchor="middle" font-size="15.6" fill="#262626">-5</text>
<text transform="translate(71.45 385.60) scale(1.220 1)" text-anchor="middle" font-size="15.6" fill="#262626">-4</text>
<text transform="translate(101.90 385.60) scale(1.220 1)" text-anchor="middle" font-size="15.6" fill="#262626">-3</text>
<text transform="translate(132.35 385.60) scale(1.220 1)" text-anchor="middle" font-size="15.6" fill="#262626">-2</text>
<text transform="translate(162.80 385.60) scale(1.220 1)" text-anchor="middle" font-size="15.6" fill="#262626">-1</text>
<text transform="translate(193.75 385.60) scale(1.180 1)" text-anchor="middle" font-size="15.6" fill="#262626">0</text>
<text transform="translate(224.20 385.60) scale(1.180 1)" text-anchor="middle" font-size="15.6" fill="#262626">1</text>
<text transform="translate(254.65 385.60) scale(1.180 1)" text-anchor="middle" font-size="15.6" fill="#262626">2</text>
<text transform="translate(285.10 385.60) scale(1.180 1)" text-anchor="middle" font-size="15.6" fill="#262626">3</text>
<text transform="translate(315.55 385.60) scale(1.180 1)" text-anchor="middle" font-size="15.6" fill="#262626">4</text>
<text transform="translate(346.00 385.60) scale(1.180 1)" text-anchor="middle" font-size="15.6" fill="#262626">5</text>
<text transform="translate(36.90 370.90) scale(1.180 1)" text-anchor="end" font-size="15.6" fill="#262626">0</text>
<text transform="translate(36.90 329.47) scale(1.180 1)" text-anchor="end" font-size="15.6" fill="#262626">1</text>
<text transform="translate(36.90 288.05) scale(1.180 1)" text-anchor="end" font-size="15.6" fill="#262626">2</text>
<text transform="translate(36.90 246.62) scale(1.180 1)" text-anchor="end" font-size="15.6" fill="#262626">3</text>
<text transform="translate(36.90 205.19) scale(1.180 1)" text-anchor="end" font-size="15.6" fill="#262626">4</text>
<text transform="translate(36.90 163.77) scale(1.180 1)" text-anchor="end" font-size="15.6" fill="#262626">5</text>
<text transform="translate(36.90 122.34) scale(1.180 1)" text-anchor="end" font-size="15.6" fill="#262626">6</text>
<text transform="translate(36.90 80.91) scale(1.180 1)" text-anchor="end" font-size="15.6" fill="#262626">7</text>
<text transform="translate(193.75 409.30) scale(1.270 1)" text-anchor="middle" font-size="16.8" fill="#262626">Φ<tspan font-size="20" dy="1.5">/</tspan><tspan dy="-1.5">Φ</tspan><tspan font-size="11.5" dy="3.5">0</tspan></text>
<path d="M395.72 55.0V365.7M426.14 55.0V365.7M456.56 55.0V365.7M486.98 55.0V365.7M517.40 55.0V365.7M547.82 55.0V365.7M578.24 55.0V365.7M608.66 55.0V365.7M639.08 55.0V365.7M365.3 324.27H669.5M365.3 282.85H669.5M365.3 241.42H669.5M365.3 199.99H669.5M365.3 158.57H669.5M365.3 117.14H669.5M365.3 75.71H669.5" stroke="#eaeaea" stroke-width="1" fill="none"/>
<clipPath id="cp365"><rect x="365.3" y="55.0" width="304.2" height="310.7"/></clipPath>
<g clip-path="url(#cp365)" fill="none" stroke-width="2.2" stroke-linejoin="round">
<path d="M365.3 339.0L366.1 342.2L366.8 345.2L367.6 346.9L368.3 347.2L369.1 347.3L369.9 347.4L370.6 347.5L371.4 347.5L372.1 347.5L372.9 347.5L373.7 347.5L374.4 347.1L375.2 346.1L375.9 344.7L376.7 343.5L377.5 342.4L378.2 341.3L379.0 340.3L379.7 339.5L380.5 338.9L381.3 338.4L382.0 338.0L382.8 337.5L383.6 337.2L384.3 337.1L385.1 337.2L385.8 337.2L386.6 337.5L387.4 338.3L388.1 338.1L388.9 335.2L389.6 331.8L390.4 330.0L391.2 330.0L391.9 329.9L392.7 329.9L393.4 329.9L394.2 330.4L395.0 331.2L395.7 331.9L396.5 332.7L397.2 333.6L398.0 334.6L398.8 335.7L399.5 337.0L400.3 338.3L401.0 339.7L401.8 341.3L402.6 343.0L403.3 345.0L404.1 347.2L404.8 349.8L405.6 352.2L406.4 353.7L407.1 354.0L407.9 351.2L408.6 348.5L409.4 346.0L410.2 343.6L410.9 341.3L411.7 339.3L412.5 337.6L413.2 336.3L414.0 335.2L414.7 334.3L415.5 333.4L416.3 332.4L417.0 331.5L417.8 330.8L418.5 330.3L419.3 330.0L420.1 329.8L420.8 329.7L421.6 329.7L422.3 329.7L423.1 329.9L423.9 330.1L424.6 330.8L425.4 332.1L426.1 335.3L426.9 339.1L427.7 341.3L428.4 341.4L429.2 341.4L429.9 341.4L430.7 341.5L431.5 341.5L432.2 341.7L433.0 341.8L433.7 342.0L434.5 342.3L435.3 342.9L436.0 343.6L436.8 344.4L437.5 345.4L438.3 346.0L439.1 345.8L439.8 345.1L440.6 344.5L441.3 343.8L442.1 343.2L442.9 342.9L443.6 342.8L444.4 342.8L445.2 342.7L445.9 342.7L446.7 342.6L447.4 342.6L448.2 342.3L449.0 338.3L449.7 334.8L450.5 331.8L451.2 329.7L452.0 328.1L452.8 327.0L453.5 326.1L454.3 326.0L455.0 326.4L455.8 327.2L456.6 328.0L457.3 328.8L458.1 329.7L458.8 330.7L459.6 331.7L460.4 332.9L461.1 334.2L461.9 335.6L462.6 337.0L463.4 338.5L464.2 340.4L464.9 343.0L465.7 346.6L466.4 350.9L467.2 352.7L468.0 353.1L468.7 352.7L469.5 351.4L470.2 348.5L471.0 346.1L471.8 343.9L472.5 342.1L473.3 340.7L474.1 339.5L474.8 338.4L475.6 337.2L476.3 336.1L477.1 335.2L477.9 334.4L478.6 333.8L479.4 333.2L480.1 332.6L480.9 332.1L481.7 331.7L482.4 331.5L483.2 331.4L483.9 331.3L484.7 331.3L485.5 331.5L486.2 331.9L487.0 334.2L487.7 336.5L488.5 336.6L489.3 336.6L490.0 336.7L490.8 336.8L491.5 336.9L492.3 337.1L493.1 337.3L493.8 337.7L494.6 338.2L495.3 338.7L496.1 339.3L496.9 340.0L497.6 340.8L498.4 341.9L499.1 343.2L499.9 344.4L500.7 345.8L501.4 347.1L502.2 347.7L503.0 347.8L503.7 347.8L504.5 347.9L505.2 347.9L506.0 347.9L506.8 347.8L507.5 347.7L508.3 346.8L509.0 343.5L509.8 340.6L510.6 337.8L511.3 335.6L512.1 333.7L512.8 331.8L513.6 329.9L514.4 328.3L515.1 327.0L515.9 325.9L516.6 325.2L517.4 324.7L518.2 325.2L518.9 325.9L519.7 327.0L520.4 328.3L521.2 329.9L522.0 331.8L522.7 333.7L523.5 335.6L524.2 337.8L525.0 340.6L525.8 343.5L526.5 346.8L527.3 347.7L528.0 347.8L528.8 347.9L529.6 347.9L530.3 347.9L531.1 347.8L531.8 347.8L532.6 347.7L533.4 347.1L534.1 345.8L534.9 344.4L535.7 343.2L536.4 341.9L537.2 340.8L537.9 340.0L538.7 339.3L539.5 338.7L540.2 338.2L541.0 337.7L541.7 337.3L542.5 337.1L543.3 336.9L544.0 336.8L544.8 336.7L545.5 336.6L546.3 336.6L547.1 336.5L547.8 334.2L548.6 331.9L549.3 331.5L550.1 331.3L550.9 331.3L551.6 331.4L552.4 331.5L553.1 331.7L553.9 332.1L554.7 332.6L555.4 333.2L556.2 333.8L556.9 334.4L557.7 335.2L558.5 336.1L559.2 337.2L560.0 338.4L560.7 339.5L561.5 340.7L562.3 342.1L563.0 343.9L563.8 346.1L564.6 348.5L565.3 351.4L566.1 352.7L566.8 353.1L567.6 352.7L568.4 350.9L569.1 346.6L569.9 343.0L570.6 340.4L571.4 338.5L572.2 337.0L572.9 335.6L573.7 334.2L574.4 332.9L575.2 331.7L576.0 330.7L576.7 329.7L577.5 328.8L578.2 328.0L579.0 327.2L579.8 326.4L580.5 326.0L581.3 326.1L582.0 327.0L582.8 328.1L583.6 329.7L584.3 331.8L585.1 334.8L585.8 338.3L586.6 342.3L587.4 342.6L588.1 342.6L588.9 342.7L589.6 342.7L590.4 342.8L591.2 342.8L591.9 342.9L592.7 343.2L593.4 343.8L594.2 344.5L595.0 345.1L595.7 345.8L596.5 346.0L597.3 345.4L598.0 344.4L598.8 343.6L599.5 342.9L600.3 342.3L601.1 342.0L601.8 341.8L602.6 341.7L603.3 341.5L604.1 341.5L604.9 341.4L605.6 341.4L606.4 341.4L607.1 341.3L607.9 339.1L608.7 335.3L609.4 332.1L610.2 330.8L610.9 330.1L611.7 329.9L612.5 329.7L613.2 329.7L614.0 329.7L614.7 329.8L615.5 330.0L616.3 330.3L617.0 330.8L617.8 331.5L618.5 332.4L619.3 333.4L620.1 334.3L620.8 335.2L621.6 336.3L622.3 337.6L623.1 339.3L623.9 341.3L624.6 343.6L625.4 346.0L626.2 348.5L626.9 351.2L627.7 354.0L628.4 353.7L629.2 352.2L630.0 349.8L630.7 347.2L631.5 345.0L632.2 343.0L633.0 341.3L633.8 339.7L634.5 338.3L635.3 337.0L636.0 335.7L636.8 334.6L637.6 333.6L638.3 332.7L639.1 331.9L639.8 331.2L640.6 330.4L641.4 329.9L642.1 329.9L642.9 329.9L643.6 330.0L644.4 330.0L645.2 331.8L645.9 335.2L646.7 338.1L647.4 338.3L648.2 337.5L649.0 337.2L649.7 337.2L650.5 337.1L651.2 337.2L652.0 337.5L652.8 338.0L653.5 338.4L654.3 338.9L655.1 339.5L655.8 340.3L656.6 341.3L657.3 342.4L658.1 343.5L658.9 344.7L659.6 346.1L660.4 347.1L661.1 347.5L661.9 347.5L662.7 347.5L663.4 347.5L664.2 347.5L664.9 347.4L665.7 347.3L666.5 347.2L667.2 346.9L668.0 345.2L668.7 342.2L669.5 339.0" stroke="#0072BD"/>
<path d="M365.3 295.7L366.1 298.5L366.8 300.9L367.6 302.2L368.3 302.5L369.1 302.8L369.9 303.2L370.6 303.8L371.4 305.0L372.1 306.6L372.9 308.3L373.7 309.7L374.4 308.8L375.2 306.4L375.9 304.6L376.7 302.8L377.5 301.2L378.2 299.8L379.0 298.6L379.7 297.4L380.5 296.3L381.3 295.6L382.0 295.2L382.8 294.9L383.6 294.7L384.3 294.4L385.1 294.1L385.8 293.8L386.6 293.4L387.4 292.9L388.1 292.4L388.9 291.7L389.6 291.1L390.4 290.7L391.2 290.4L391.9 290.3L392.7 290.2L393.4 290.1L394.2 290.1L395.0 290.3L395.7 290.5L396.5 290.8L397.2 291.2L398.0 291.7L398.8 292.4L399.5 293.3L400.3 294.5L401.0 295.8L401.8 297.3L402.6 299.0L403.3 300.9L404.1 303.2L404.8 305.8L405.6 308.7L406.4 311.7L407.1 311.3L407.9 308.4L408.6 305.8L409.4 303.5L410.2 301.3L410.9 299.3L411.7 297.5L412.5 296.0L413.2 294.6L414.0 293.2L414.7 291.9L415.5 290.7L416.3 289.5L417.0 288.3L417.8 287.5L418.5 287.1L419.3 286.8L420.1 286.8L420.8 286.8L421.6 287.0L422.3 287.9L423.1 289.3L423.9 290.5L424.6 291.9L425.4 293.3L426.1 294.2L426.9 294.7L427.7 295.1L428.4 295.4L429.2 295.9L429.9 296.3L430.7 296.8L431.5 297.2L432.2 297.8L433.0 298.3L433.7 299.0L434.5 299.8L435.3 300.9L436.0 302.0L436.8 303.2L437.5 304.5L438.3 306.1L439.1 307.7L439.8 307.9L440.6 306.1L441.3 304.0L442.1 302.3L442.9 300.8L443.6 299.6L444.4 298.9L445.2 298.4L445.9 297.8L446.7 297.1L447.4 296.4L448.2 295.4L449.0 293.3L449.7 291.2L450.5 289.1L451.2 287.7L452.0 287.4L452.8 287.2L453.5 287.2L454.3 287.3L455.0 287.5L455.8 288.5L456.6 289.9L457.3 291.7L458.1 293.2L458.8 293.6L459.6 293.9L460.4 294.3L461.1 294.7L461.9 295.2L462.6 296.0L463.4 297.1L464.2 298.3L464.9 299.8L465.7 301.9L466.4 304.7L467.2 307.6L468.0 309.4L468.7 308.6L469.5 307.5L470.2 306.3L471.0 305.5L471.8 305.2L472.5 305.0L473.3 304.7L474.1 304.3L474.8 303.8L475.6 302.1L476.3 299.4L477.1 296.9L477.9 294.5L478.6 292.2L479.4 290.7L480.1 289.6L480.9 288.9L481.7 288.4L482.4 287.9L483.2 287.7L483.9 287.6L484.7 287.8L485.5 288.1L486.2 288.5L487.0 289.0L487.7 289.7L488.5 290.5L489.3 291.6L490.0 292.9L490.8 294.3L491.5 295.9L492.3 297.2L493.1 297.7L493.8 298.0L494.6 298.2L495.3 298.7L496.1 299.2L496.9 299.8L497.6 300.5L498.4 301.3L499.1 302.1L499.9 302.9L500.7 304.0L501.4 305.0L502.2 305.4L503.0 305.4L503.7 305.3L504.5 305.2L505.2 305.0L506.0 304.8L506.8 304.6L507.5 304.2L508.3 303.6L509.0 301.6L509.8 299.4L510.6 297.1L511.3 294.8L512.1 292.5L512.8 290.3L513.6 288.1L514.4 286.5L515.1 285.4L515.9 284.5L516.6 283.8L517.4 283.3L518.2 283.8L518.9 284.5L519.7 285.4L520.4 286.5L521.2 288.1L522.0 290.3L522.7 292.5L523.5 294.8L524.2 297.1L525.0 299.4L525.8 301.6L526.5 303.6L527.3 304.2L528.0 304.6L528.8 304.8L529.6 305.0L530.3 305.2L531.1 305.3L531.8 305.4L532.6 305.4L533.4 305.0L534.1 304.0L534.9 302.9L535.7 302.1L536.4 301.3L537.2 300.5L537.9 299.8L538.7 299.2L539.5 298.7L540.2 298.2L541.0 298.0L541.7 297.7L542.5 297.2L543.3 295.9L544.0 294.3L544.8 292.9L545.5 291.6L546.3 290.5L547.1 289.7L547.8 289.0L548.6 288.5L549.3 288.1L550.1 287.8L550.9 287.6L551.6 287.7L552.4 287.9L553.1 288.4L553.9 288.9L554.7 289.6L555.4 290.7L556.2 292.2L556.9 294.5L557.7 296.9L558.5 299.4L559.2 302.1L560.0 303.8L560.7 304.3L561.5 304.7L562.3 305.0L563.0 305.2L563.8 305.5L564.6 306.3L565.3 307.5L566.1 308.6L566.8 309.4L567.6 307.6L568.4 304.7L569.1 301.9L569.9 299.8L570.6 298.3L571.4 297.1L572.2 296.0L572.9 295.2L573.7 294.7L574.4 294.3L575.2 293.9L576.0 293.6L576.7 293.2L577.5 291.7L578.2 289.9L579.0 288.5L579.8 287.5L580.5 287.3L581.3 287.2L582.0 287.2L582.8 287.4L583.6 287.7L584.3 289.1L585.1 291.2L585.8 293.3L586.6 295.4L587.4 296.4L588.1 297.1L588.9 297.8L589.6 298.4L590.4 298.9L591.2 299.6L591.9 300.8L592.7 302.3L593.4 304.0L594.2 306.1L595.0 307.9L595.7 307.7L596.5 306.1L597.3 304.5L598.0 303.2L598.8 302.0L599.5 300.9L600.3 299.8L601.1 299.0L601.8 298.3L602.6 297.8L603.3 297.2L604.1 296.8L604.9 296.3L605.6 295.9L606.4 295.4L607.1 295.1L607.9 294.7L608.7 294.2L609.4 293.3L610.2 291.9L610.9 290.5L611.7 289.3L612.5 287.9L613.2 287.0L614.0 286.8L614.7 286.8L615.5 286.8L616.3 287.1L617.0 287.5L617.8 288.3L618.5 289.5L619.3 290.7L620.1 291.9L620.8 293.2L621.6 294.6L622.3 296.0L623.1 297.5L623.9 299.3L624.6 301.3L625.4 303.5L626.2 305.8L626.9 308.4L627.7 311.3L628.4 311.7L629.2 308.7L630.0 305.8L630.7 303.2L631.5 300.9L632.2 299.0L633.0 297.3L633.8 295.8L634.5 294.5L635.3 293.3L636.0 292.4L636.8 291.7L637.6 291.2L638.3 290.8L639.1 290.5L639.8 290.3L640.6 290.1L641.4 290.1L642.1 290.2L642.9 290.3L643.6 290.4L644.4 290.7L645.2 291.1L645.9 291.7L646.7 292.4L647.4 292.9L648.2 293.4L649.0 293.8L649.7 294.1L650.5 294.4L651.2 294.7L652.0 294.9L652.8 295.2L653.5 295.6L654.3 296.3L655.1 297.4L655.8 298.6L656.6 299.8L657.3 301.2L658.1 302.8L658.9 304.6L659.6 306.4L660.4 308.8L661.1 309.7L661.9 308.3L662.7 306.6L663.4 305.0L664.2 303.8L664.9 303.2L665.7 302.8L666.5 302.5L667.2 302.2L668.0 300.9L668.7 298.5L669.5 295.7" stroke="#D95319" stroke-dasharray="4 1.4 2 1.4"/>
<path d="M365.3 255.9L366.1 257.4L366.8 258.7L367.6 259.9L368.3 260.8L369.1 261.3L369.9 261.8L370.6 262.2L371.4 262.8L372.1 263.3L372.9 263.9L373.7 264.5L374.4 265.1L375.2 266.1L375.9 267.4L376.7 266.9L377.5 264.6L378.2 262.1L379.0 259.9L379.7 258.0L380.5 256.3L381.3 254.7L382.0 253.3L382.8 252.5L383.6 252.1L384.3 251.8L385.1 251.6L385.8 251.3L386.6 251.1L387.4 250.8L388.1 250.6L388.9 250.4L389.6 250.2L390.4 250.0L391.2 249.8L391.9 249.7L392.7 249.6L393.4 249.5L394.2 249.5L395.0 249.5L395.7 249.8L396.5 250.2L397.2 250.7L398.0 251.1L398.8 251.8L399.5 252.8L400.3 254.2L401.0 255.8L401.8 257.8L402.6 260.2L403.3 262.9L404.1 265.9L404.8 269.4L405.6 271.1L406.4 271.2L407.1 270.9L407.9 269.8L408.6 266.9L409.4 263.9L410.2 261.0L410.9 258.6L411.7 256.6L412.5 254.9L413.2 253.3L414.0 251.6L414.7 250.7L415.5 250.6L416.3 250.4L417.0 250.3L417.8 250.2L418.5 250.0L419.3 249.8L420.1 249.4L420.8 248.6L421.6 247.7L422.3 247.0L423.1 247.1L423.9 247.2L424.6 247.5L425.4 248.0L426.1 249.7L426.9 251.7L427.7 253.9L428.4 255.5L429.2 256.2L429.9 256.6L430.7 257.2L431.5 257.8L432.2 258.6L433.0 259.6L433.7 261.1L434.5 263.0L435.3 265.1L436.0 267.4L436.8 267.8L437.5 266.3L438.3 264.6L439.1 263.1L439.8 261.5L440.6 260.5L441.3 260.0L442.1 259.5L442.9 259.1L443.6 258.6L444.4 258.2L445.2 257.7L445.9 257.2L446.7 256.6L447.4 256.1L448.2 255.3L449.0 253.7L449.7 251.3L450.5 249.4L451.2 247.7L452.0 246.8L452.8 246.3L453.5 246.0L454.3 245.8L455.0 245.8L455.8 245.8L456.6 246.1L457.3 246.4L458.1 246.8L458.8 247.4L459.6 248.3L460.4 249.4L461.1 250.6L461.9 251.9L462.6 253.5L463.4 255.7L464.2 258.8L464.9 262.1L465.7 265.4L466.4 267.3L467.2 268.3L468.0 268.9L468.7 268.7L469.5 267.0L470.2 265.4L471.0 263.6L471.8 261.6L472.5 259.7L473.3 257.9L474.1 256.7L474.8 256.3L475.6 256.1L476.3 255.8L477.1 255.6L477.9 255.3L478.6 254.6L479.4 253.5L480.1 252.3L480.9 251.0L481.7 249.9L482.4 248.7L483.2 247.9L483.9 247.2L484.7 247.0L485.5 247.5L486.2 248.3L487.0 249.0L487.7 249.8L488.5 250.3L489.3 250.7L490.0 250.9L490.8 251.2L491.5 251.6L492.3 252.2L493.1 254.0L493.8 256.9L494.6 260.0L495.3 261.1L496.1 261.6L496.9 261.9L497.6 262.1L498.4 262.4L499.1 262.8L499.9 263.3L500.7 263.8L501.4 264.4L502.2 264.6L503.0 264.6L503.7 264.4L504.5 264.2L505.2 264.0L506.0 263.8L506.8 263.4L507.5 262.7L508.3 261.4L509.0 259.8L509.8 258.1L510.6 256.3L511.3 254.2L512.1 251.6L512.8 249.2L513.6 246.8L514.4 245.1L515.1 243.9L515.9 243.1L516.6 242.4L517.4 241.8L518.2 242.4L518.9 243.1L519.7 243.9L520.4 245.1L521.2 246.8L522.0 249.2L522.7 251.6L523.5 254.2L524.2 256.3L525.0 258.1L525.8 259.8L526.5 261.4L527.3 262.7L528.0 263.4L528.8 263.8L529.6 264.0L530.3 264.2L531.1 264.4L531.8 264.6L532.6 264.6L533.4 264.4L534.1 263.8L534.9 263.3L535.7 262.8L536.4 262.4L537.2 262.1L537.9 261.9L538.7 261.6L539.5 261.1L540.2 260.0L541.0 256.9L541.7 254.0L542.5 252.2L543.3 251.6L544.0 251.2L544.8 250.9L545.5 250.7L546.3 250.3L547.1 249.8L547.8 249.0L548.6 248.3L549.3 247.5L550.1 247.0L550.9 247.2L551.6 247.9L552.4 248.7L553.1 249.9L553.9 251.0L554.7 252.3L555.4 253.5L556.2 254.6L556.9 255.3L557.7 255.6L558.5 255.8L559.2 256.1L560.0 256.3L560.7 256.7L561.5 257.9L562.3 259.7L563.0 261.6L563.8 263.6L564.6 265.4L565.3 267.0L566.1 268.7L566.8 268.9L567.6 268.3L568.4 267.3L569.1 265.4L569.9 262.1L570.6 258.8L571.4 255.7L572.2 253.5L572.9 251.9L573.7 250.6L574.4 249.4L575.2 248.3L576.0 247.4L576.7 246.8L577.5 246.4L578.2 246.1L579.0 245.8L579.8 245.8L580.5 245.8L581.3 246.0L582.0 246.3L582.8 246.8L583.6 247.7L584.3 249.4L585.1 251.3L585.8 253.7L586.6 255.3L587.4 256.1L588.1 256.6L588.9 257.2L589.6 257.7L590.4 258.2L591.2 258.6L591.9 259.1L592.7 259.5L593.4 260.0L594.2 260.5L595.0 261.5L595.7 263.1L596.5 264.6L597.3 266.3L598.0 267.8L598.8 267.4L599.5 265.1L600.3 263.0L601.1 261.1L601.8 259.6L602.6 258.6L603.3 257.8L604.1 257.2L604.9 256.6L605.6 256.2L606.4 255.5L607.1 253.9L607.9 251.7L608.7 249.7L609.4 248.0L610.2 247.5L610.9 247.2L611.7 247.1L612.5 247.0L613.2 247.7L614.0 248.6L614.7 249.4L615.5 249.8L616.3 250.0L617.0 250.2L617.8 250.3L618.5 250.4L619.3 250.6L620.1 250.7L620.8 251.6L621.6 253.3L622.3 254.9L623.1 256.6L623.9 258.6L624.6 261.0L625.4 263.9L626.2 266.9L626.9 269.8L627.7 270.9L628.4 271.2L629.2 271.1L630.0 269.4L630.7 265.9L631.5 262.9L632.2 260.2L633.0 257.8L633.8 255.8L634.5 254.2L635.3 252.8L636.0 251.8L636.8 251.1L637.6 250.7L638.3 250.2L639.1 249.8L639.8 249.5L640.6 249.5L641.4 249.5L642.1 249.6L642.9 249.7L643.6 249.8L644.4 250.0L645.2 250.2L645.9 250.4L646.7 250.6L647.4 250.8L648.2 251.1L649.0 251.3L649.7 251.6L650.5 251.8L651.2 252.1L652.0 252.5L652.8 253.3L653.5 254.7L654.3 256.3L655.1 258.0L655.8 259.9L656.6 262.1L657.3 264.6L658.1 266.9L658.9 267.4L659.6 266.1L660.4 265.1L661.1 264.5L661.9 263.9L662.7 263.3L663.4 262.8L664.2 262.2L664.9 261.8L665.7 261.3L666.5 260.8L667.2 259.9L668.0 258.7L668.7 257.4L669.5 255.9" stroke="#EDB120" stroke-dasharray="1.5 1.5"/>
<path d="M365.3 213.7L366.1 216.3L366.8 219.3L367.6 221.0L368.3 221.1L369.1 221.1L369.9 221.2L370.6 221.3L371.4 221.6L372.1 221.9L372.9 222.5L373.7 223.0L374.4 222.7L375.2 222.0L375.9 221.1L376.7 220.8L377.5 220.7L378.2 220.7L379.0 220.6L379.7 220.1L380.5 217.7L381.3 215.3L382.0 213.1L382.8 211.9L383.6 211.5L384.3 211.2L385.1 211.0L385.8 210.7L386.6 210.3L387.4 208.7L388.1 206.6L388.9 205.3L389.6 204.7L390.4 204.6L391.2 205.4L391.9 206.9L392.7 208.8L393.4 209.3L394.2 209.2L395.0 209.1L395.7 209.1L396.5 209.2L397.2 209.4L398.0 209.9L398.8 210.8L399.5 211.7L400.3 212.8L401.0 214.6L401.8 216.6L402.6 218.4L403.3 220.5L404.1 223.0L404.8 225.9L405.6 229.1L406.4 229.0L407.1 227.0L407.9 225.2L408.6 223.2L409.4 220.8L410.2 218.6L410.9 216.7L411.7 215.0L412.5 213.6L413.2 212.3L414.0 210.9L414.7 209.6L415.5 208.9L416.3 208.8L417.0 208.7L417.8 208.6L418.5 208.5L419.3 207.9L420.1 206.6L420.8 205.6L421.6 204.9L422.3 204.8L423.1 204.8L423.9 204.8L424.6 205.1L425.4 205.8L426.1 208.1L426.9 211.0L427.7 212.9L428.4 213.3L429.2 213.6L429.9 214.1L430.7 215.0L431.5 217.0L432.2 219.5L433.0 220.6L433.7 220.8L434.5 221.0L435.3 221.1L436.0 221.4L436.8 221.7L437.5 221.9L438.3 221.9L439.1 221.4L439.8 220.7L440.6 220.0L441.3 219.3L442.1 218.8L442.9 218.4L443.6 218.1L444.4 217.8L445.2 217.5L445.9 217.2L446.7 216.7L447.4 215.1L448.2 212.1L449.0 209.6L449.7 207.2L450.5 205.4L451.2 204.0L452.0 202.8L452.8 201.6L453.5 201.0L454.3 201.2L455.0 201.7L455.8 202.4L456.6 203.6L457.3 206.3L458.1 209.3L458.8 211.6L459.6 211.8L460.4 211.9L461.1 212.1L461.9 212.4L462.6 212.8L463.4 214.0L464.2 215.4L464.9 216.9L465.7 219.1L466.4 221.9L467.2 225.0L468.0 226.3L468.7 226.6L469.5 226.7L470.2 226.7L471.0 226.5L471.8 225.2L472.5 222.4L473.3 219.9L474.1 217.6L474.8 215.8L475.6 214.2L476.3 212.7L477.1 211.2L477.9 209.9L478.6 209.0L479.4 208.3L480.1 207.8L480.9 207.3L481.7 206.9L482.4 206.8L483.2 207.0L483.9 207.2L484.7 207.6L485.5 208.0L486.2 208.3L487.0 208.5L487.7 208.6L488.5 208.7L489.3 208.8L490.0 208.8L490.8 208.9L491.5 209.1L492.3 209.4L493.1 210.1L493.8 211.0L494.6 212.0L495.3 213.5L496.1 215.4L496.9 218.1L497.6 221.3L498.4 223.0L499.1 223.1L499.9 223.3L500.7 223.6L501.4 223.4L502.2 222.7L503.0 221.9L503.7 221.8L504.5 221.6L505.2 221.5L506.0 221.3L506.8 221.1L507.5 220.3L508.3 218.6L509.0 216.7L509.8 215.6L510.6 214.8L511.3 213.7L512.1 211.1L512.8 207.9L513.6 205.0L514.4 203.0L515.1 202.0L515.9 201.2L516.6 200.5L517.4 200.0L518.2 200.5L518.9 201.2L519.7 202.0L520.4 203.0L521.2 205.0L522.0 207.9L522.7 211.1L523.5 213.7L524.2 214.8L525.0 215.6L525.8 216.7L526.5 218.6L527.3 220.3L528.0 221.1L528.8 221.3L529.6 221.5L530.3 221.6L531.1 221.8L531.8 221.9L532.6 222.7L533.4 223.4L534.1 223.6L534.9 223.3L535.7 223.1L536.4 223.0L537.2 221.3L537.9 218.1L538.7 215.4L539.5 213.5L540.2 212.0L541.0 211.0L541.7 210.1L542.5 209.4L543.3 209.1L544.0 208.9L544.8 208.8L545.5 208.8L546.3 208.7L547.1 208.6L547.8 208.5L548.6 208.3L549.3 208.0L550.1 207.6L550.9 207.2L551.6 207.0L552.4 206.8L553.1 206.9L553.9 207.3L554.7 207.8L555.4 208.3L556.2 209.0L556.9 209.9L557.7 211.2L558.5 212.7L559.2 214.2L560.0 215.8L560.7 217.6L561.5 219.9L562.3 222.4L563.0 225.2L563.8 226.5L564.6 226.7L565.3 226.7L566.1 226.6L566.8 226.3L567.6 225.0L568.4 221.9L569.1 219.1L569.9 216.9L570.6 215.4L571.4 214.0L572.2 212.8L572.9 212.4L573.7 212.1L574.4 211.9L575.2 211.8L576.0 211.6L576.7 209.3L577.5 206.3L578.2 203.6L579.0 202.4L579.8 201.7L580.5 201.2L581.3 201.0L582.0 201.6L582.8 202.8L583.6 204.0L584.3 205.4L585.1 207.2L585.8 209.6L586.6 212.1L587.4 215.1L588.1 216.7L588.9 217.2L589.6 217.5L590.4 217.8L591.2 218.1L591.9 218.4L592.7 218.8L593.4 219.3L594.2 220.0L595.0 220.7L595.7 221.4L596.5 221.9L597.3 221.9L598.0 221.7L598.8 221.4L599.5 221.1L600.3 221.0L601.1 220.8L601.8 220.6L602.6 219.5L603.3 217.0L604.1 215.0L604.9 214.1L605.6 213.6L606.4 213.3L607.1 212.9L607.9 211.0L608.7 208.1L609.4 205.8L610.2 205.1L610.9 204.8L611.7 204.8L612.5 204.8L613.2 204.9L614.0 205.6L614.7 206.6L615.5 207.9L616.3 208.5L617.0 208.6L617.8 208.7L618.5 208.8L619.3 208.9L620.1 209.6L620.8 210.9L621.6 212.3L622.3 213.6L623.1 215.0L623.9 216.7L624.6 218.6L625.4 220.8L626.2 223.2L626.9 225.2L627.7 227.0L628.4 229.0L629.2 229.1L630.0 225.9L630.7 223.0L631.5 220.5L632.2 218.4L633.0 216.6L633.8 214.6L634.5 212.8L635.3 211.7L636.0 210.8L636.8 209.9L637.6 209.4L638.3 209.2L639.1 209.1L639.8 209.1L640.6 209.2L641.4 209.3L642.1 208.8L642.9 206.9L643.6 205.4L644.4 204.6L645.2 204.7L645.9 205.3L646.7 206.6L647.4 208.7L648.2 210.3L649.0 210.7L649.7 211.0L650.5 211.2L651.2 211.5L652.0 211.9L652.8 213.1L653.5 215.3L654.3 217.7L655.1 220.1L655.8 220.6L656.6 220.7L657.3 220.7L658.1 220.8L658.9 221.1L659.6 222.0L660.4 222.7L661.1 223.0L661.9 222.5L662.7 221.9L663.4 221.6L664.2 221.3L664.9 221.2L665.7 221.1L666.5 221.1L667.2 221.0L668.0 219.3L668.7 216.3L669.5 213.7" stroke="#7E2F8E"/>
<path d="M365.3 171.0L366.1 173.4L366.8 175.7L367.6 177.7L368.3 179.2L369.1 180.3L369.9 181.4L370.6 182.0L371.4 182.1L372.1 182.2L372.9 182.2L373.7 182.0L374.4 181.6L375.2 181.0L375.9 179.8L376.7 178.7L377.5 177.6L378.2 176.6L379.0 175.9L379.7 175.5L380.5 175.0L381.3 174.5L382.0 174.0L382.8 173.3L383.6 172.1L384.3 170.7L385.1 169.4L385.8 168.1L386.6 167.1L387.4 166.2L388.1 165.4L388.9 164.8L389.6 164.2L390.4 164.0L391.2 164.2L391.9 164.7L392.7 165.3L393.4 166.0L394.2 166.7L395.0 167.3L395.7 167.7L396.5 168.1L397.2 168.6L398.0 169.1L398.8 169.6L399.5 170.4L400.3 171.7L401.0 173.6L401.8 175.5L402.6 177.3L403.3 179.4L404.1 182.0L404.8 184.8L405.6 187.6L406.4 187.4L407.1 184.8L407.9 182.5L408.6 180.3L409.4 178.3L410.2 176.6L410.9 175.0L411.7 173.4L412.5 171.7L413.2 170.9L414.0 170.7L414.7 170.5L415.5 170.3L416.3 170.0L417.0 169.7L417.8 168.3L418.5 166.0L419.3 163.8L420.1 162.3L420.8 161.3L421.6 160.7L422.3 160.8L423.1 161.4L423.9 162.2L424.6 163.4L425.4 164.9L426.1 167.3L426.9 169.8L427.7 172.7L428.4 174.3L429.2 174.5L429.9 174.6L430.7 174.7L431.5 174.9L432.2 175.2L433.0 175.5L433.7 175.9L434.5 176.5L435.3 177.2L436.0 177.9L436.8 178.6L437.5 179.4L438.3 180.2L439.1 181.1L439.8 182.2L440.6 182.5L441.3 180.7L442.1 178.5L442.9 176.2L443.6 174.7L444.4 174.4L445.2 174.2L445.9 173.9L446.7 173.6L447.4 172.1L448.2 169.7L449.0 167.6L449.7 166.7L450.5 166.4L451.2 166.0L452.0 165.7L452.8 165.1L453.5 163.9L454.3 163.0L455.0 162.3L455.8 162.4L456.6 162.7L457.3 163.2L458.1 164.0L458.8 164.8L459.6 165.8L460.4 166.9L461.1 167.9L461.9 169.2L462.6 171.2L463.4 173.8L464.2 176.4L464.9 179.1L465.7 180.9L466.4 182.3L467.2 183.6L468.0 185.0L468.7 185.1L469.5 183.6L470.2 181.7L471.0 180.1L471.8 178.4L472.5 177.4L473.3 177.0L474.1 176.8L474.8 176.5L475.6 176.2L476.3 175.7L477.1 174.1L477.9 171.4L478.6 168.8L479.4 166.8L480.1 165.7L480.9 164.8L481.7 163.7L482.4 163.1L483.2 163.1L483.9 163.1L484.7 163.4L485.5 164.1L486.2 165.7L487.0 167.7L487.7 169.1L488.5 169.0L489.3 168.8L490.0 168.5L490.8 168.3L491.5 168.4L492.3 168.6L493.1 168.9L493.8 169.4L494.6 170.1L495.3 171.0L496.1 172.2L496.9 173.6L497.6 175.2L498.4 177.3L499.1 180.2L499.9 183.5L500.7 185.2L501.4 184.2L502.2 183.0L503.0 181.7L503.7 180.7L504.5 180.1L505.2 179.5L506.0 179.0L506.8 178.4L507.5 177.7L508.3 176.9L509.0 175.8L509.8 174.7L510.6 173.4L511.3 171.8L512.1 169.5L512.8 166.9L513.6 164.3L514.4 162.4L515.1 161.2L515.9 160.2L516.6 159.5L517.4 159.0L518.2 159.5L518.9 160.2L519.7 161.2L520.4 162.4L521.2 164.3L522.0 166.9L522.7 169.5L523.5 171.8L524.2 173.4L525.0 174.7L525.8 175.8L526.5 176.9L527.3 177.7L528.0 178.4L528.8 179.0L529.6 179.5L530.3 180.1L531.1 180.7L531.8 181.7L532.6 183.0L533.4 184.2L534.1 185.2L534.9 183.5L535.7 180.2L536.4 177.3L537.2 175.2L537.9 173.6L538.7 172.2L539.5 171.0L540.2 170.1L541.0 169.4L541.7 168.9L542.5 168.6L543.3 168.4L544.0 168.3L544.8 168.5L545.5 168.8L546.3 169.0L547.1 169.1L547.8 167.7L548.6 165.7L549.3 164.1L550.1 163.4L550.9 163.1L551.6 163.1L552.4 163.1L553.1 163.7L553.9 164.8L554.7 165.7L555.4 166.8L556.2 168.8L556.9 171.4L557.7 174.1L558.5 175.7L559.2 176.2L560.0 176.5L560.7 176.8L561.5 177.0L562.3 177.4L563.0 178.4L563.8 180.1L564.6 181.7L565.3 183.6L566.1 185.1L566.8 185.0L567.6 183.6L568.4 182.3L569.1 180.9L569.9 179.1L570.6 176.4L571.4 173.8L572.2 171.2L572.9 169.2L573.7 167.9L574.4 166.9L575.2 165.8L576.0 164.8L576.7 164.0L577.5 163.2L578.2 162.7L579.0 162.4L579.8 162.3L580.5 163.0L581.3 163.9L582.0 165.1L582.8 165.7L583.6 166.0L584.3 166.4L585.1 166.7L585.8 167.6L586.6 169.7L587.4 172.1L588.1 173.6L588.9 173.9L589.6 174.2L590.4 174.4L591.2 174.7L591.9 176.2L592.7 178.5L593.4 180.7L594.2 182.5L595.0 182.2L595.7 181.1L596.5 180.2L597.3 179.4L598.0 178.6L598.8 177.9L599.5 177.2L600.3 176.5L601.1 175.9L601.8 175.5L602.6 175.2L603.3 174.9L604.1 174.7L604.9 174.6L605.6 174.5L606.4 174.3L607.1 172.7L607.9 169.8L608.7 167.3L609.4 164.9L610.2 163.4L610.9 162.2L611.7 161.4L612.5 160.8L613.2 160.7L614.0 161.3L614.7 162.3L615.5 163.8L616.3 166.0L617.0 168.3L617.8 169.7L618.5 170.0L619.3 170.3L620.1 170.5L620.8 170.7L621.6 170.9L622.3 171.7L623.1 173.4L623.9 175.0L624.6 176.6L625.4 178.3L626.2 180.3L626.9 182.5L627.7 184.8L628.4 187.4L629.2 187.6L630.0 184.8L630.7 182.0L631.5 179.4L632.2 177.3L633.0 175.5L633.8 173.6L634.5 171.7L635.3 170.4L636.0 169.6L636.8 169.1L637.6 168.6L638.3 168.1L639.1 167.7L639.8 167.3L640.6 166.7L641.4 166.0L642.1 165.3L642.9 164.7L643.6 164.2L644.4 164.0L645.2 164.2L645.9 164.8L646.7 165.4L647.4 166.2L648.2 167.1L649.0 168.1L649.7 169.4L650.5 170.7L651.2 172.1L652.0 173.3L652.8 174.0L653.5 174.5L654.3 175.0L655.1 175.5L655.8 175.9L656.6 176.6L657.3 177.6L658.1 178.7L658.9 179.8L659.6 181.0L660.4 181.6L661.1 182.0L661.9 182.2L662.7 182.2L663.4 182.1L664.2 182.0L664.9 181.4L665.7 180.3L666.5 179.2L667.2 177.7L668.0 175.7L668.7 173.4L669.5 171.0" stroke="#77AC30" stroke-dasharray="4 1.4 2 1.4"/>
<path d="M365.3 130.8L366.1 132.6L366.8 134.4L367.6 135.7L368.3 136.2L369.1 136.7L369.9 137.3L370.6 138.1L371.4 139.1L372.1 140.5L372.9 142.2L373.7 143.6L374.4 142.4L375.2 139.9L375.9 138.0L376.7 136.2L377.5 134.7L378.2 133.3L379.0 132.1L379.7 131.5L380.5 131.2L381.3 131.0L382.0 130.7L382.8 130.5L383.6 130.3L384.3 129.9L385.1 129.1L385.8 128.1L386.6 127.2L387.4 126.3L388.1 124.9L388.9 123.2L389.6 121.8L390.4 120.6L391.2 120.7L391.9 121.4L392.7 122.3L393.4 123.4L394.2 124.7L395.0 126.0L395.7 127.5L396.5 128.4L397.2 128.9L398.0 129.2L398.8 129.6L399.5 130.1L400.3 130.8L401.0 132.1L401.8 133.7L402.6 135.2L403.3 136.8L404.1 139.3L404.8 142.0L405.6 144.6L406.4 146.1L407.1 144.3L407.9 141.5L408.6 139.4L409.4 137.2L410.2 135.0L410.9 132.8L411.7 131.0L412.5 130.4L413.2 130.2L414.0 129.9L414.7 129.6L415.5 129.2L416.3 127.4L417.0 125.0L417.8 122.7L418.5 121.7L419.3 121.4L420.1 121.2L420.8 120.9L421.6 120.9L422.3 121.2L423.1 121.6L423.9 122.0L424.6 122.7L425.4 124.5L426.1 127.1L426.9 130.2L427.7 131.7L428.4 131.8L429.2 131.8L429.9 131.9L430.7 132.1L431.5 132.4L432.2 133.0L433.0 133.9L433.7 134.8L434.5 135.9L435.3 137.7L436.0 140.3L436.8 142.9L437.5 143.2L438.3 140.8L439.1 138.9L439.8 137.6L440.6 136.7L441.3 135.8L442.1 134.9L442.9 134.3L443.6 134.1L444.4 134.0L445.2 133.9L445.9 133.7L446.7 133.5L447.4 132.7L448.2 129.2L449.0 126.1L449.7 123.4L450.5 122.1L451.2 121.3L452.0 120.6L452.8 120.0L453.5 119.9L454.3 120.1L455.0 120.5L455.8 121.2L456.6 122.1L457.3 123.9L458.1 125.8L458.8 127.5L459.6 128.0L460.4 128.3L461.1 128.7L461.9 129.2L462.6 129.8L463.4 130.7L464.2 131.9L464.9 133.3L465.7 134.9L466.4 136.9L467.2 139.3L468.0 141.7L468.7 144.3L469.5 145.2L470.2 142.8L471.0 139.9L471.8 137.5L472.5 135.6L473.3 134.5L474.1 133.6L474.8 132.7L475.6 131.8L476.3 131.0L477.1 130.3L477.9 129.8L478.6 129.2L479.4 128.6L480.1 127.9L480.9 126.7L481.7 124.8L482.4 123.1L483.2 121.5L483.9 121.2L484.7 122.3L485.5 123.6L486.2 125.0L487.0 126.0L487.7 126.6L488.5 127.0L489.3 127.5L490.0 127.9L490.8 128.3L491.5 128.6L492.3 128.9L493.1 129.2L493.8 129.6L494.6 130.0L495.3 130.4L496.1 131.1L496.9 132.2L497.6 133.6L498.4 135.0L499.1 136.8L499.9 139.6L500.7 142.7L501.4 144.4L502.2 142.7L503.0 141.1L503.7 139.7L504.5 138.9L505.2 138.2L506.0 137.5L506.8 136.7L507.5 135.9L508.3 134.9L509.0 133.7L509.8 132.5L510.6 131.3L511.3 130.1L512.1 128.4L512.8 126.0L513.6 123.6L514.4 121.4L515.1 119.8L515.9 118.6L516.6 117.7L517.4 117.1L518.2 117.7L518.9 118.6L519.7 119.8L520.4 121.4L521.2 123.6L522.0 126.0L522.7 128.4L523.5 130.1L524.2 131.3L525.0 132.5L525.8 133.7L526.5 134.9L527.3 135.9L528.0 136.7L528.8 137.5L529.6 138.2L530.3 138.9L531.1 139.7L531.8 141.1L532.6 142.7L533.4 144.4L534.1 142.7L534.9 139.6L535.7 136.8L536.4 135.0L537.2 133.6L537.9 132.2L538.7 131.1L539.5 130.4L540.2 130.0L541.0 129.6L541.7 129.2L542.5 128.9L543.3 128.6L544.0 128.3L544.8 127.9L545.5 127.5L546.3 127.0L547.1 126.6L547.8 126.0L548.6 125.0L549.3 123.6L550.1 122.3L550.9 121.2L551.6 121.5L552.4 123.1L553.1 124.8L553.9 126.7L554.7 127.9L555.4 128.6L556.2 129.2L556.9 129.8L557.7 130.3L558.5 131.0L559.2 131.8L560.0 132.7L560.7 133.6L561.5 134.5L562.3 135.6L563.0 137.5L563.8 139.9L564.6 142.8L565.3 145.2L566.1 144.3L566.8 141.7L567.6 139.3L568.4 136.9L569.1 134.9L569.9 133.3L570.6 131.9L571.4 130.7L572.2 129.8L572.9 129.2L573.7 128.7L574.4 128.3L575.2 128.0L576.0 127.5L576.7 125.8L577.5 123.9L578.2 122.1L579.0 121.2L579.8 120.5L580.5 120.1L581.3 119.9L582.0 120.0L582.8 120.6L583.6 121.3L584.3 122.1L585.1 123.4L585.8 126.1L586.6 129.2L587.4 132.7L588.1 133.5L588.9 133.7L589.6 133.9L590.4 134.0L591.2 134.1L591.9 134.3L592.7 134.9L593.4 135.8L594.2 136.7L595.0 137.6L595.7 138.9L596.5 140.8L597.3 143.2L598.0 142.9L598.8 140.3L599.5 137.7L600.3 135.9L601.1 134.8L601.8 133.9L602.6 133.0L603.3 132.4L604.1 132.1L604.9 131.9L605.6 131.8L606.4 131.8L607.1 131.7L607.9 130.2L608.7 127.1L609.4 124.5L610.2 122.7L610.9 122.0L611.7 121.6L612.5 121.2L613.2 120.9L614.0 120.9L614.7 121.2L615.5 121.4L616.3 121.7L617.0 122.7L617.8 125.0L618.5 127.4L619.3 129.2L620.1 129.6L620.8 129.9L621.6 130.2L622.3 130.4L623.1 131.0L623.9 132.8L624.6 135.0L625.4 137.2L626.2 139.4L626.9 141.5L627.7 144.3L628.4 146.1L629.2 144.6L630.0 142.0L630.7 139.3L631.5 136.8L632.2 135.2L633.0 133.7L633.8 132.1L634.5 130.8L635.3 130.1L636.0 129.6L636.8 129.2L637.6 128.9L638.3 128.4L639.1 127.5L639.8 126.0L640.6 124.7L641.4 123.4L642.1 122.3L642.9 121.4L643.6 120.7L644.4 120.6L645.2 121.8L645.9 123.2L646.7 124.9L647.4 126.3L648.2 127.2L649.0 128.1L649.7 129.1L650.5 129.9L651.2 130.3L652.0 130.5L652.8 130.7L653.5 131.0L654.3 131.2L655.1 131.5L655.8 132.1L656.6 133.3L657.3 134.7L658.1 136.2L658.9 138.0L659.6 139.9L660.4 142.4L661.1 143.6L661.9 142.2L662.7 140.5L663.4 139.1L664.2 138.1L664.9 137.3L665.7 136.7L666.5 136.2L667.2 135.7L668.0 134.4L668.7 132.6L669.5 130.8" stroke="#4DBEEE" stroke-dasharray="1.5 1.5"/>
</g>
<path d="M365.3 55.0H669.5V365.7H365.3ZM365.30 365.7v-3M365.30 55.0v3M395.72 365.7v-3M395.72 55.0v3M426.14 365.7v-3M426.14 55.0v3M456.56 365.7v-3M456.56 55.0v3M486.98 365.7v-3M486.98 55.0v3M517.40 365.7v-3M517.40 55.0v3M547.82 365.7v-3M547.82 55.0v3M578.24 365.7v-3M578.24 55.0v3M608.66 365.7v-3M608.66 55.0v3M639.08 365.7v-3M639.08 55.0v3M669.50 365.7v-3M669.50 55.0v3M365.3 365.70h3M669.5 365.70h-3M365.3 324.27h3M669.5 324.27h-3M365.3 282.85h3M669.5 282.85h-3M365.3 241.42h3M669.5 241.42h-3M365.3 199.99h3M669.5 199.99h-3M365.3 158.57h3M669.5 158.57h-3M365.3 117.14h3M669.5 117.14h-3M365.3 75.71h3M669.5 75.71h-3" stroke="#8c8c8c" stroke-width="1.15" fill="none"/>
<text transform="translate(364.80 385.60) scale(1.220 1)" text-anchor="middle" font-size="15.6" fill="#262626">-5</text>
<text transform="translate(395.22 385.60) scale(1.220 1)" text-anchor="middle" font-size="15.6" fill="#262626">-4</text>
<text transform="translate(425.64 385.60) scale(1.220 1)" text-anchor="middle" font-size="15.6" fill="#262626">-3</text>
<text transform="translate(456.06 385.60) scale(1.220 1)" text-anchor="middle" font-size="15.6" fill="#262626">-2</text>
<text transform="translate(486.48 385.60) scale(1.220 1)" text-anchor="middle" font-size="15.6" fill="#262626">-1</text>
<text transform="translate(517.40 385.60) scale(1.180 1)" text-anchor="middle" font-size="15.6" fill="#262626">0</text>
<text transform="translate(547.82 385.60) scale(1.180 1)" text-anchor="middle" font-size="15.6" fill="#262626">1</text>
<text transform="translate(578.24 385.60) scale(1.180 1)" text-anchor="middle" font-size="15.6" fill="#262626">2</text>
<text transform="translate(608.66 385.60) scale(1.180 1)" text-anchor="middle" font-size="15.6" fill="#262626">3</text>
<text transform="translate(639.08 385.60) scale(1.180 1)" text-anchor="middle" font-size="15.6" fill="#262626">4</text>
<text transform="translate(669.50 385.60) scale(1.180 1)" text-anchor="middle" font-size="15.6" fill="#262626">5</text>
<text transform="translate(517.40 409.30) scale(1.270 1)" text-anchor="middle" font-size="16.8" fill="#262626">Φ<tspan font-size="20" dy="1.5">/</tspan><tspan dy="-1.5">Φ</tspan><tspan font-size="11.5" dy="3.5">0</tspan></text>
<text transform="translate(16.60 210.50) rotate(-90) scale(1.270 1)" text-anchor="middle" font-size="18.5" fill="#262626"><tspan font-style="italic">I</tspan><tspan font-style="italic" font-size="13" dy="4">c</tspan><tspan dy="-2.5" font-size="23">/</tspan><tspan font-style="italic" dy="-1.5">I</tspan><tspan font-style="italic" font-size="13" dy="4">c</tspan><tspan font-size="13">,max</tspan></text>
<rect x="49.3" y="61.6" width="194.0" height="45.699999999999996" fill="#fff" stroke="#262626" stroke-width="0.7" stroke-opacity="0.8"/>
<path d="M52 70.2h27" stroke="#0072BD" stroke-width="2" fill="none"/>
<text transform="translate(82.20 73.50) scale(1.165 1)" text-anchor="start" font-size="12.0" fill="#111"><tspan font-style="italic">L</tspan><tspan font-style="italic" font-size="8.6" dy="2">S</tspan><tspan dy="-1" font-size="14.5">/</tspan><tspan dy="-1" font-style="italic">ξ</tspan><tspan font-style="italic" font-size="8.6" dy="2">S</tspan><tspan dy="-2"> </tspan><tspan font-size="14" dy="0.6">≈</tspan><tspan dy="-0.6"> 4.7</tspan></text>
<path d="M52 84.6h27" stroke="#D95319" stroke-width="2" fill="none" stroke-dasharray="6.2 2 1.8 2"/>
<text transform="translate(82.20 87.90) scale(1.165 1)" text-anchor="start" font-size="12.0" fill="#111"><tspan font-style="italic">L</tspan><tspan font-style="italic" font-size="8.6" dy="2">S</tspan><tspan dy="-1" font-size="14.5">/</tspan><tspan dy="-1" font-style="italic">ξ</tspan><tspan font-style="italic" font-size="8.6" dy="2">S</tspan><tspan dy="-2"> </tspan><tspan font-size="14" dy="0.6">≈</tspan><tspan dy="-0.6"> 3.9</tspan></text>
<path d="M52 99.0h27" stroke="#EDB120" stroke-width="2" fill="none" stroke-dasharray="1.35 1.3"/>
<text transform="translate(82.20 102.30) scale(1.165 1)" text-anchor="start" font-size="12.0" fill="#111"><tspan font-style="italic">L</tspan><tspan font-style="italic" font-size="8.6" dy="2">S</tspan><tspan dy="-1" font-size="14.5">/</tspan><tspan dy="-1" font-style="italic">ξ</tspan><tspan font-style="italic" font-size="8.6" dy="2">S</tspan><tspan dy="-2"> </tspan><tspan font-size="14" dy="0.6">≈</tspan><tspan dy="-0.6"> 3.1</tspan></text>
<path d="M149.2 70.2h27" stroke="#7E2F8E" stroke-width="2" fill="none"/>
<text transform="translate(179.50 73.50) scale(1.165 1)" text-anchor="start" font-size="12.0" fill="#111"><tspan font-style="italic">L</tspan><tspan font-style="italic" font-size="8.6" dy="2">S</tspan><tspan dy="-1" font-size="14.5">/</tspan><tspan dy="-1" font-style="italic">ξ</tspan><tspan font-style="italic" font-size="8.6" dy="2">S</tspan><tspan dy="-2"> </tspan><tspan font-size="14" dy="0.6">≈</tspan><tspan dy="-0.6"> 2.3</tspan></text>
<path d="M149.2 84.6h27" stroke="#77AC30" stroke-width="2" fill="none" stroke-dasharray="6.2 2 1.8 2"/>
<text transform="translate(179.50 87.90) scale(1.165 1)" text-anchor="start" font-size="12.0" fill="#111"><tspan font-style="italic">L</tspan><tspan font-style="italic" font-size="8.6" dy="2">S</tspan><tspan dy="-1" font-size="14.5">/</tspan><tspan dy="-1" font-style="italic">ξ</tspan><tspan font-style="italic" font-size="8.6" dy="2">S</tspan><tspan dy="-2"> </tspan><tspan font-size="14" dy="0.6">≈</tspan><tspan dy="-0.6"> 1.6</tspan></text>
<path d="M149.2 99.0h27" stroke="#4DBEEE" stroke-width="2" fill="none" stroke-dasharray="1.35 1.3"/>
<text transform="translate(179.50 102.30) scale(1.165 1)" text-anchor="start" font-size="12.0" fill="#111"><tspan font-style="italic">L</tspan><tspan font-style="italic" font-size="8.6" dy="2">S</tspan><tspan dy="-1" font-size="14.5">/</tspan><tspan dy="-1" font-style="italic">ξ</tspan><tspan font-style="italic" font-size="8.6" dy="2">S</tspan><tspan dy="-2"> </tspan><tspan font-size="14" dy="0.6">≈</tspan><tspan dy="-0.6"> 0.8</tspan></text>
<rect x="372.0" y="61.6" width="250.60000000000002" height="45.699999999999996" fill="#fff" stroke="#262626" stroke-width="0.7" stroke-opacity="0.8"/>
<path d="M375.2 70.2h27" stroke="#0072BD" stroke-width="2" fill="none"/>
<text transform="translate(405.20 73.50) scale(1.245 1)" text-anchor="start" font-size="12.0" fill="#111"><tspan font-style="italic">L</tspan><tspan font-style="italic" font-size="8.6" dy="2">N′</tspan><tspan font-size="8.6">,</tspan><tspan font-style="italic" font-size="8.6">R</tspan><tspan dy="-1" font-size="14.5">/</tspan><tspan dy="-1" font-style="italic">L</tspan><tspan font-style="italic" font-size="8.6" dy="2">N′</tspan><tspan font-size="8.6">,</tspan><tspan font-style="italic" font-size="8.6">L</tspan><tspan dy="-2"> </tspan><tspan font-size="14" dy="0.6">=</tspan><tspan dy="-0.6"> 1</tspan></text>
<path d="M375.2 84.6h27" stroke="#D95319" stroke-width="2" fill="none" stroke-dasharray="6.2 2 1.8 2"/>
<text transform="translate(405.20 87.90) scale(1.210 1)" text-anchor="start" font-size="12.0" fill="#111"><tspan font-style="italic">L</tspan><tspan font-style="italic" font-size="8.6" dy="2">N′</tspan><tspan font-size="8.6">,</tspan><tspan font-style="italic" font-size="8.6">R</tspan><tspan dy="-1" font-size="14.5">/</tspan><tspan dy="-1" font-style="italic">L</tspan><tspan font-style="italic" font-size="8.6" dy="2">N′</tspan><tspan font-size="8.6">,</tspan><tspan font-style="italic" font-size="8.6">L</tspan><tspan dy="-2"> </tspan><tspan font-size="14" dy="0.6">≈</tspan><tspan dy="-0.6"> 1.2</tspan></text>
<path d="M375.2 99.0h27" stroke="#EDB120" stroke-width="2" fill="none" stroke-dasharray="1.35 1.3"/>
<text transform="translate(405.20 102.30) scale(1.210 1)" text-anchor="start" font-size="12.0" fill="#111"><tspan font-style="italic">L</tspan><tspan font-style="italic" font-size="8.6" dy="2">N′</tspan><tspan font-size="8.6">,</tspan><tspan font-style="italic" font-size="8.6">R</tspan><tspan dy="-1" font-size="14.5">/</tspan><tspan dy="-1" font-style="italic">L</tspan><tspan font-style="italic" font-size="8.6" dy="2">N′</tspan><tspan font-size="8.6">,</tspan><tspan font-style="italic" font-size="8.6">L</tspan><tspan dy="-2"> </tspan><tspan font-size="14" dy="0.6">≈</tspan><tspan dy="-0.6"> 1.3</tspan></text>
<path d="M500.2 70.2h27" stroke="#7E2F8E" stroke-width="2" fill="none"/>
<text transform="translate(530.50 73.50) scale(1.212 1)" text-anchor="start" font-size="12.0" fill="#111"><tspan font-style="italic">L</tspan><tspan font-style="italic" font-size="8.6" dy="2">N′</tspan><tspan font-size="8.6">,</tspan><tspan font-style="italic" font-size="8.6">R</tspan><tspan dy="-1" font-size="14.5">/</tspan><tspan dy="-1" font-style="italic">L</tspan><tspan font-style="italic" font-size="8.6" dy="2">N′</tspan><tspan font-size="8.6">,</tspan><tspan font-style="italic" font-size="8.6">L</tspan><tspan dy="-2"> </tspan><tspan font-size="14" dy="0.6">≈</tspan><tspan dy="-0.6"> 1.5</tspan></text>
<path d="M500.2 84.6h27" stroke="#77AC30" stroke-width="2" fill="none" stroke-dasharray="6.2 2 1.8 2"/>
<text transform="translate(530.50 87.90) scale(1.212 1)" text-anchor="start" font-size="12.0" fill="#111"><tspan font-style="italic">L</tspan><tspan font-style="italic" font-size="8.6" dy="2">N′</tspan><tspan font-size="8.6">,</tspan><tspan font-style="italic" font-size="8.6">R</tspan><tspan dy="-1" font-size="14.5">/</tspan><tspan dy="-1" font-style="italic">L</tspan><tspan font-style="italic" font-size="8.6" dy="2">N′</tspan><tspan font-size="8.6">,</tspan><tspan font-style="italic" font-size="8.6">L</tspan><tspan dy="-2"> </tspan><tspan font-size="14" dy="0.6">≈</tspan><tspan dy="-0.6"> 1.7</tspan></text>
<path d="M500.2 99.0h27" stroke="#4DBEEE" stroke-width="2" fill="none" stroke-dasharray="1.35 1.3"/>
<text transform="translate(530.50 102.30) scale(1.212 1)" text-anchor="start" font-size="12.0" fill="#111"><tspan font-style="italic">L</tspan><tspan font-style="italic" font-size="8.6" dy="2">N′</tspan><tspan font-size="8.6">,</tspan><tspan font-style="italic" font-size="8.6">R</tspan><tspan dy="-1" font-size="14.5">/</tspan><tspan dy="-1" font-style="italic">L</tspan><tspan font-style="italic" font-size="8.6" dy="2">N′</tspan><tspan font-size="8.6">,</tspan><tspan font-style="italic" font-size="8.6">L</tspan><tspan dy="-2"> </tspan><tspan font-size="14" dy="0.6">≈</tspan><tspan dy="-0.6"> 1.8</tspan></text>
<text transform="translate(325.00 95.30) scale(1.080 1)" text-anchor="middle" font-size="23" fill="#111" font-weight="bold"><tspan font-size="26" dy="0.7">(</tspan><tspan dy="-0.7">a</tspan><tspan font-size="26" dy="0.7">)</tspan></text>
<text transform="translate(647.60 96.00) scale(1.060 1)" text-anchor="middle" font-size="23" fill="#111" font-weight="bold"><tspan font-size="26" dy="0.7">(</tspan><tspan dy="-0.7">b</tspan><tspan font-size="26" dy="0.7">)</tspan></text>
<defs>
<filter id="jet" filterUnits="userSpaceOnUse" x="712.3" y="32.1" width="291.20000000000005" height="353.59999999999997" color-interpolation-filters="sRGB"><feGaussianBlur stdDeviation="1.2"/><feComponentTransfer><feFuncR type="table" tableValues="0.000 0.000 0.000 0.000 0.000 0.000 0.000 0.000 0.000 0.000 0.000 0.000 0.000 0.000 0.000 0.000 0.000 0.000 0.000 0.000 0.000 0.000 0.000 0.000 0.000 0.062 0.125 0.188 0.250 0.312 0.375 0.438 0.500 0.562 0.625 0.688 0.750 0.812 0.875 0.938 1.000 1.000 1.000 1.000 1.000 1.000 1.000 1.000 1.000 1.000 1.000 1.000 1.000 1.000 1.000 1.000 1.000 0.938 0.875 0.812 0.750 0.688 0.625 0.562 0.500"/><feFuncG type="table" tableValues="0.000 0.000 0.000 0.000 0.000 0.000 0.000 0.000 0.000 0.062 0.125 0.188 0.250 0.312 0.375 0.438 0.500 0.562 0.625 0.688 0.750 0.812 0.875 0.938 1.000 1.000 1.000 1.000 1.000 1.000 1.000 1.000 1.000 1.000 1.000 1.000 1.000 1.000 1.000 1.000 1.000 0.938 0.875 0.812 0.750 0.688 0.625 0.562 0.500 0.438 0.375 0.312 0.250 0.188 0.125 0.062 0.000 0.000 0.000 0.000 0.000 0.000 0.000 0.000 0.000"/><feFuncB type="table" tableValues="0.500 0.562 0.625 0.688 0.750 0.812 0.875 0.938 1.000 1.000 1.000 1.000 1.000 1.000 1.000 1.000 1.000 1.000 1.000 1.000 1.000 1.000 1.000 1.000 1.000 0.938 0.875 0.812 0.750 0.688 0.625 0.562 0.500 0.438 0.375 0.312 0.250 0.188 0.125 0.062 0.000 0.000 0.000 0.000 0.000 0.000 0.000 0.000 0.000 0.000 0.000 0.000 0.000 0.000 0.000 0.000 0.000 0.000 0.000 0.000 0.000 0.000 0.000 0.000 0.000"/><feFuncA type="linear" slope="0" intercept="1"/></feComponentTransfer></filter>
<clipPath id="hc"><rect x="732.3" y="52.1" width="251.20000000000005" height="313.59999999999997"/></clipPath>
</defs>
<defs><linearGradient id="g1" class="wg" gradientUnits="userSpaceOnUse" x1="732.3" y1="0" x2="983.5" y2="0"><stop offset="0.000" stop-opacity="0.000"/><stop offset="0.665" stop-opacity="0.001"/><stop offset="1.000" stop-opacity="0.000"/></linearGradient><linearGradient id="g2" class="wg" gradientUnits="userSpaceOnUse" x1="732.3" y1="0" x2="983.5" y2="0"><stop offset="0.000" stop-opacity="0.001"/><stop offset="0.305" stop-opacity="0.008"/><stop offset="0.510" stop-opacity="0.017"/><stop offset="0.735" stop-opacity="0.003"/><stop offset="1.000" stop-opacity="0.001"/></linearGradient><linearGradient id="g3" class="wg" gradientUnits="userSpaceOnUse" x1="732.3" y1="0" x2="983.5" y2="0"><stop offset="0.000" stop-opacity="0.001"/><stop offset="0.245" stop-opacity="0.008"/><stop offset="0.460" stop-opacity="0.037"/><stop offset="0.510" stop-opacity="0.035"/><stop offset="0.615" stop-opacity="0.014"/><stop offset="1.000" stop-opacity="0.003"/></linearGradient><linearGradient id="g4" class="wg" gradientUnits="userSpaceOnUse" x1="732.3" y1="0" x2="983.5" y2="0"><stop offset="0.000" stop-opacity="0.002"/><stop offset="0.230" stop-opacity="0.009"/><stop offset="0.440" stop-opacity="0.058"/><stop offset="0.505" stop-opacity="0.059"/><stop offset="0.555" stop-opacity="0.034"/><stop offset="0.705" stop-opacity="0.013"/><stop offset="1.000" stop-opacity="0.004"/></linearGradient><linearGradient id="g5" class="wg" gradientUnits="userSpaceOnUse" x1="732.3" y1="0" x2="983.5" y2="0"><stop offset="0.000" stop-opacity="0.002"/><stop offset="0.220" stop-opacity="0.010"/><stop offset="0.345" stop-opacity="0.050"/><stop offset="0.430" stop-opacity="0.080"/><stop offset="0.505" stop-opacity="0.082"/><stop offset="0.535" stop-opacity="0.057"/><stop offset="0.615" stop-opacity="0.030"/><stop offset="0.835" stop-opacity="0.009"/><stop offset="1.000" stop-opacity="0.005"/></linearGradient><linearGradient id="g6" class="wg" gradientUnits="userSpaceOnUse" x1="732.3" y1="0" x2="983.5" y2="0"><stop offset="0.000" stop-opacity="0.003"/><stop offset="0.205" stop-opacity="0.011"/><stop offset="0.295" stop-opacity="0.048"/><stop offset="0.415" stop-opacity="0.122"/><stop offset="0.490" stop-opacity="0.136"/><stop offset="0.505" stop-opacity="0.132"/><stop offset="0.525" stop-opacity="0.098"/><stop offset="0.580" stop-opacity="0.058"/><stop offset="0.695" stop-opacity="0.027"/><stop offset="0.915" stop-opacity="0.009"/><stop offset="1.000" stop-opacity="0.008"/></linearGradient><linearGradient id="g7" class="wg" gradientUnits="userSpaceOnUse" x1="732.3" y1="0" x2="983.5" y2="0"><stop offset="0.000" stop-opacity="0.003"/><stop offset="0.215" stop-opacity="0.010"/><stop offset="0.300" stop-opacity="0.041"/><stop offset="0.425" stop-opacity="0.108"/><stop offset="0.500" stop-opacity="0.119"/><stop offset="0.530" stop-opacity="0.078"/><stop offset="0.590" stop-opacity="0.043"/><stop offset="0.740" stop-opacity="0.016"/><stop offset="1.000" stop-opacity="0.006"/></linearGradient><linearGradient id="g8" class="wg" gradientUnits="userSpaceOnUse" x1="732.3" y1="0" x2="983.5" y2="0"><stop offset="0.000" stop-opacity="0.006"/><stop offset="0.185" stop-opacity="0.015"/><stop offset="0.230" stop-opacity="0.034"/><stop offset="0.285" stop-opacity="0.080"/><stop offset="0.340" stop-opacity="0.152"/><stop offset="0.390" stop-opacity="0.246"/><stop offset="0.430" stop-opacity="0.295"/><stop offset="0.475" stop-opacity="0.322"/><stop offset="0.500" stop-opacity="0.322"/><stop offset="0.505" stop-opacity="0.310"/><stop offset="0.515" stop-opacity="0.252"/><stop offset="0.525" stop-opacity="0.214"/><stop offset="0.560" stop-opacity="0.142"/><stop offset="0.595" stop-opacity="0.102"/><stop offset="0.665" stop-opacity="0.063"/><stop offset="0.785" stop-opacity="0.030"/><stop offset="1.000" stop-opacity="0.014"/></linearGradient><linearGradient id="g9" class="wg" gradientUnits="userSpaceOnUse" x1="732.3" y1="0" x2="983.5" y2="0"><stop offset="0.000" stop-opacity="0.009"/><stop offset="0.180" stop-opacity="0.019"/><stop offset="0.225" stop-opacity="0.042"/><stop offset="0.280" stop-opacity="0.109"/><stop offset="0.335" stop-opacity="0.228"/><stop offset="0.355" stop-opacity="0.303"/><stop offset="0.405" stop-opacity="0.498"/><stop offset="0.435" stop-opacity="0.581"/><stop offset="0.470" stop-opacity="0.641"/><stop offset="0.500" stop-opacity="0.646"/><stop offset="0.505" stop-opacity="0.611"/><stop offset="0.515" stop-opacity="0.458"/><stop offset="0.520" stop-opacity="0.404"/><stop offset="0.530" stop-opacity="0.343"/><stop offset="0.550" stop-opacity="0.259"/><stop offset="0.570" stop-opacity="0.199"/><stop offset="0.600" stop-opacity="0.148"/><stop offset="0.650" stop-opacity="0.101"/><stop offset="0.735" stop-opacity="0.057"/><stop offset="0.855" stop-opacity="0.030"/><stop offset="1.000" stop-opacity="0.019"/></linearGradient><linearGradient id="g10" class="wg" gradientUnits="userSpaceOnUse" x1="732.3" y1="0" x2="983.5" y2="0"><stop offset="0.000" stop-opacity="0.001"/><stop offset="0.275" stop-opacity="0.008"/><stop offset="0.350" stop-opacity="0.027"/><stop offset="0.475" stop-opacity="0.125"/><stop offset="0.500" stop-opacity="0.126"/><stop offset="0.505" stop-opacity="0.108"/><stop offset="0.510" stop-opacity="0.079"/><stop offset="0.515" stop-opacity="0.058"/><stop offset="0.525" stop-opacity="0.041"/><stop offset="0.570" stop-opacity="0.017"/><stop offset="0.770" stop-opacity="0.003"/><stop offset="1.000" stop-opacity="0.001"/></linearGradient><linearGradient id="g11" class="wg" gradientUnits="userSpaceOnUse" x1="732.3" y1="0" x2="983.5" y2="0"><stop offset="0.000" stop-opacity="0.004"/><stop offset="1.000" stop-opacity="0.000"/></linearGradient><linearGradient id="g12" class="wg" gradientUnits="userSpaceOnUse" x1="732.3" y1="0" x2="983.5" y2="0"><stop offset="0.000" stop-opacity="0.014"/><stop offset="0.235" stop-opacity="0.017"/><stop offset="0.450" stop-opacity="0.001"/><stop offset="1.000" stop-opacity="0.001"/></linearGradient><linearGradient id="g13" class="wg" gradientUnits="userSpaceOnUse" x1="732.3" y1="0" x2="983.5" y2="0"><stop offset="0.000" stop-opacity="0.029"/><stop offset="0.130" stop-opacity="0.039"/><stop offset="0.240" stop-opacity="0.033"/><stop offset="0.405" stop-opacity="0.003"/><stop offset="1.000" stop-opacity="0.001"/></linearGradient><linearGradient id="g14" class="wg" gradientUnits="userSpaceOnUse" x1="732.3" y1="0" x2="983.5" y2="0"><stop offset="0.000" stop-opacity="0.046"/><stop offset="0.100" stop-opacity="0.063"/><stop offset="0.220" stop-opacity="0.058"/><stop offset="0.385" stop-opacity="0.007"/><stop offset="1.000" stop-opacity="0.002"/></linearGradient><linearGradient id="g15" class="wg" gradientUnits="userSpaceOnUse" x1="732.3" y1="0" x2="983.5" y2="0"><stop offset="0.000" stop-opacity="0.064"/><stop offset="0.085" stop-opacity="0.088"/><stop offset="0.215" stop-opacity="0.084"/><stop offset="0.370" stop-opacity="0.012"/><stop offset="0.550" stop-opacity="0.003"/><stop offset="1.000" stop-opacity="0.002"/></linearGradient><linearGradient id="g16" class="wg" gradientUnits="userSpaceOnUse" x1="732.3" y1="0" x2="983.5" y2="0"><stop offset="0.000" stop-opacity="0.100"/><stop offset="0.075" stop-opacity="0.140"/><stop offset="0.205" stop-opacity="0.138"/><stop offset="0.255" stop-opacity="0.102"/><stop offset="0.345" stop-opacity="0.032"/><stop offset="0.400" stop-opacity="0.010"/><stop offset="0.720" stop-opacity="0.004"/><stop offset="1.000" stop-opacity="0.003"/></linearGradient><linearGradient id="g17" class="wg" gradientUnits="userSpaceOnUse" x1="732.3" y1="0" x2="983.5" y2="0"><stop offset="0.000" stop-opacity="0.084"/><stop offset="0.080" stop-opacity="0.124"/><stop offset="0.205" stop-opacity="0.121"/><stop offset="0.335" stop-opacity="0.030"/><stop offset="0.395" stop-opacity="0.009"/><stop offset="0.895" stop-opacity="0.003"/><stop offset="1.000" stop-opacity="0.003"/></linearGradient><linearGradient id="g18" class="wg" gradientUnits="userSpaceOnUse" x1="732.3" y1="0" x2="983.5" y2="0"><stop offset="0.000" stop-opacity="0.219"/><stop offset="0.030" stop-opacity="0.260"/><stop offset="0.055" stop-opacity="0.311"/><stop offset="0.075" stop-opacity="0.335"/><stop offset="0.130" stop-opacity="0.342"/><stop offset="0.195" stop-opacity="0.341"/><stop offset="0.220" stop-opacity="0.307"/><stop offset="0.285" stop-opacity="0.156"/><stop offset="0.330" stop-opacity="0.080"/><stop offset="0.375" stop-opacity="0.030"/><stop offset="0.435" stop-opacity="0.013"/><stop offset="0.880" stop-opacity="0.006"/><stop offset="1.000" stop-opacity="0.006"/></linearGradient><linearGradient id="g19" class="wg" gradientUnits="userSpaceOnUse" x1="732.3" y1="0" x2="983.5" y2="0"><stop offset="0.000" stop-opacity="0.381"/><stop offset="0.020" stop-opacity="0.436"/><stop offset="0.030" stop-opacity="0.477"/><stop offset="0.050" stop-opacity="0.591"/><stop offset="0.070" stop-opacity="0.676"/><stop offset="0.090" stop-opacity="0.704"/><stop offset="0.190" stop-opacity="0.708"/><stop offset="0.195" stop-opacity="0.703"/><stop offset="0.205" stop-opacity="0.670"/><stop offset="0.220" stop-opacity="0.603"/><stop offset="0.260" stop-opacity="0.364"/><stop offset="0.280" stop-opacity="0.272"/><stop offset="0.305" stop-opacity="0.184"/><stop offset="0.335" stop-opacity="0.107"/><stop offset="0.370" stop-opacity="0.048"/><stop offset="0.405" stop-opacity="0.025"/><stop offset="0.520" stop-opacity="0.011"/><stop offset="1.000" stop-opacity="0.009"/></linearGradient><linearGradient id="g20" class="wg" gradientUnits="userSpaceOnUse" x1="732.3" y1="0" x2="983.5" y2="0"><stop offset="0.000" stop-opacity="0.043"/><stop offset="0.030" stop-opacity="0.063"/><stop offset="0.075" stop-opacity="0.151"/><stop offset="0.100" stop-opacity="0.167"/><stop offset="0.195" stop-opacity="0.163"/><stop offset="0.235" stop-opacity="0.072"/><stop offset="0.265" stop-opacity="0.035"/><stop offset="0.325" stop-opacity="0.010"/><stop offset="0.470" stop-opacity="0.001"/><stop offset="1.000" stop-opacity="0.001"/></linearGradient><linearGradient id="g21" class="wg" gradientUnits="userSpaceOnUse" x1="732.3" y1="0" x2="983.5" y2="0"><stop offset="0.000" stop-opacity="0.003"/><stop offset="1.000" stop-opacity="0.000"/></linearGradient><linearGradient id="g22" class="wg" gradientUnits="userSpaceOnUse" x1="732.3" y1="0" x2="983.5" y2="0"><stop offset="0.000" stop-opacity="0.005"/><stop offset="1.000" stop-opacity="0.000"/></linearGradient><linearGradient id="g23" class="wg" gradientUnits="userSpaceOnUse" x1="732.3" y1="0" x2="983.5" y2="0"><stop offset="0.000" stop-opacity="0.008"/><stop offset="1.000" stop-opacity="0.000"/></linearGradient><linearGradient id="g24" class="wg" gradientUnits="userSpaceOnUse" x1="732.3" y1="0" x2="983.5" y2="0"><stop offset="0.000" stop-opacity="0.012"/><stop offset="0.730" stop-opacity="0.001"/><stop offset="1.000" stop-opacity="0.000"/></linearGradient><linearGradient id="g25" class="wg" gradientUnits="userSpaceOnUse" x1="732.3" y1="0" x2="983.5" y2="0"><stop offset="0.000" stop-opacity="0.013"/><stop offset="0.660" stop-opacity="0.001"/><stop offset="1.000" stop-opacity="0.000"/></linearGradient><linearGradient id="g26" class="wg" gradientUnits="userSpaceOnUse" x1="732.3" y1="0" x2="983.5" y2="0"><stop offset="0.000" stop-opacity="0.024"/><stop offset="0.130" stop-opacity="0.021"/><stop offset="0.355" stop-opacity="0.005"/><stop offset="1.000" stop-opacity="0.000"/></linearGradient><linearGradient id="g27" class="wg" gradientUnits="userSpaceOnUse" x1="732.3" y1="0" x2="983.5" y2="0"><stop offset="0.000" stop-opacity="0.005"/><stop offset="1.000" stop-opacity="0.000"/></linearGradient><linearGradient id="g28" class="wg" gradientUnits="userSpaceOnUse" x1="732.3" y1="0" x2="983.5" y2="0"><stop offset="0.000" stop-opacity="0.042"/><stop offset="0.105" stop-opacity="0.043"/><stop offset="0.280" stop-opacity="0.013"/><stop offset="1.000" stop-opacity="0.000"/></linearGradient><linearGradient id="g29" class="wg" gradientUnits="userSpaceOnUse" x1="732.3" y1="0" x2="983.5" y2="0"><stop offset="0.000" stop-opacity="0.046"/><stop offset="0.105" stop-opacity="0.046"/><stop offset="0.270" stop-opacity="0.014"/><stop offset="1.000" stop-opacity="0.000"/></linearGradient><linearGradient id="g30" class="wg" gradientUnits="userSpaceOnUse" x1="732.3" y1="0" x2="983.5" y2="0"><stop offset="0.000" stop-opacity="0.002"/><stop offset="1.000" stop-opacity="0.000"/></linearGradient><linearGradient id="g31" class="wg" gradientUnits="userSpaceOnUse" x1="732.3" y1="0" x2="983.5" y2="0"><stop offset="0.000" stop-opacity="0.009"/><stop offset="0.340" stop-opacity="0.000"/><stop offset="1.000" stop-opacity="0.000"/></linearGradient><linearGradient id="g32" class="wg" gradientUnits="userSpaceOnUse" x1="732.3" y1="0" x2="983.5" y2="0"><stop offset="0.000" stop-opacity="0.018"/><stop offset="0.220" stop-opacity="0.000"/><stop offset="1.000" stop-opacity="0.000"/></linearGradient><linearGradient id="g33" class="wg" gradientUnits="userSpaceOnUse" x1="732.3" y1="0" x2="983.5" y2="0"><stop offset="0.000" stop-opacity="0.029"/><stop offset="0.170" stop-opacity="0.002"/><stop offset="1.000" stop-opacity="0.000"/></linearGradient><linearGradient id="g34" class="wg" gradientUnits="userSpaceOnUse" x1="732.3" y1="0" x2="983.5" y2="0"><stop offset="0.000" stop-opacity="0.039"/><stop offset="0.145" stop-opacity="0.006"/><stop offset="0.420" stop-opacity="0.000"/><stop offset="1.000" stop-opacity="0.000"/></linearGradient><linearGradient id="g35" class="wg" gradientUnits="userSpaceOnUse" x1="732.3" y1="0" x2="983.5" y2="0"><stop offset="0.000" stop-opacity="0.032"/><stop offset="0.155" stop-opacity="0.003"/><stop offset="1.000" stop-opacity="0.000"/></linearGradient><linearGradient id="g36" class="wg" gradientUnits="userSpaceOnUse" x1="732.3" y1="0" x2="983.5" y2="0"><stop offset="0.000" stop-opacity="0.134"/><stop offset="0.090" stop-opacity="0.048"/><stop offset="0.160" stop-opacity="0.013"/><stop offset="0.240" stop-opacity="0.000"/><stop offset="1.000" stop-opacity="0.000"/></linearGradient><linearGradient id="g37" class="wg" gradientUnits="userSpaceOnUse" x1="732.3" y1="0" x2="983.5" y2="0"><stop offset="0.000" stop-opacity="0.015"/><stop offset="0.215" stop-opacity="0.000"/><stop offset="1.000" stop-opacity="0.000"/></linearGradient><linearGradient id="g38" class="wg" gradientUnits="userSpaceOnUse" x1="732.3" y1="0" x2="983.5" y2="0"><stop offset="0.000" stop-opacity="0.761"/><stop offset="0.045" stop-opacity="0.475"/><stop offset="0.065" stop-opacity="0.357"/><stop offset="0.090" stop-opacity="0.244"/><stop offset="0.115" stop-opacity="0.157"/><stop offset="0.150" stop-opacity="0.079"/><stop offset="0.190" stop-opacity="0.024"/><stop offset="0.220" stop-opacity="0.001"/><stop offset="1.000" stop-opacity="0.000"/></linearGradient></defs>
<g clip-path="url(#hc)"><g filter="url(#jet)">
<rect x="712.3" y="32.1" width="291.20000000000005" height="353.59999999999997" fill="#040404"/>
<defs><linearGradient id="eg" class="wg" x1="0" y1="0" x2="0" y2="1"><stop offset="0" stop-opacity="0.10"/><stop offset="0.03" stop-opacity="0.085"/><stop offset="0.075" stop-opacity="0.0"/><stop offset="0.925" stop-opacity="0.0"/><stop offset="0.97" stop-opacity="0.085"/><stop offset="1" stop-opacity="0.10"/></linearGradient></defs>
<rect x="712.3" y="52.1" width="291.20000000000005" height="313.59999999999997" fill="url(#eg)"/>
<g id="q"><path d="M722.3 106.5L772.5 106.5L786.3 106.4L790.1 106.1L795.1 105.5L800.1 104.3L803.9 102.8L811.4 98.7L845.3 77.5L866.7 65.0L875.5 59.5L880.5 56.7L888.0 53.0L894.3 50.4L900.6 48.3L909.4 45.9L915.7 44.8L927.0 43.2L937.0 42.7L947.1 42.6L954.6 42.9L968.4 44.0L993.5 46.8L993.5 91.9L968.4 89.1L954.6 88.0L947.1 87.7L937.0 87.8L927.0 88.3L915.7 89.9L909.4 91.0L900.6 93.4L894.3 95.5L888.0 98.1L880.5 101.8L875.5 104.6L866.7 110.1L845.3 122.6L811.4 143.8L803.9 147.9L800.1 149.4L795.1 150.6L790.1 151.2L786.3 151.5L772.5 151.6L722.3 151.6Z" fill="url(#g1)"/><path d="M722.3 113.1L772.5 113.1L786.3 112.9L790.1 112.7L795.1 112.1L800.1 110.8L803.9 109.4L811.4 105.2L845.3 84.1L866.7 71.6L875.5 66.0L880.5 63.2L888.0 59.5L894.3 56.9L900.6 54.9L909.4 52.5L915.7 51.3L927.0 49.7L937.0 49.3L947.1 49.1L954.6 49.5L968.4 50.5L993.5 53.4L993.5 85.4L968.4 82.5L954.6 81.4L947.1 81.1L937.0 81.2L927.0 81.7L915.7 83.3L909.4 84.5L900.6 86.8L894.3 88.9L888.0 91.5L880.5 95.2L875.5 98.0L866.7 103.6L845.3 116.1L811.4 137.2L803.9 141.4L800.1 142.8L795.1 144.0L790.1 144.7L786.3 144.9L772.5 145.1L722.3 145.1Z" fill="url(#g2)"/><path d="M722.3 117.2L772.5 117.2L786.3 117.0L790.1 116.8L795.1 116.2L800.1 114.9L803.9 113.5L811.4 109.3L845.3 88.2L866.7 75.7L875.5 70.1L880.5 67.3L888.0 63.6L894.3 61.0L900.6 59.0L909.4 56.6L915.7 55.4L927.0 53.8L937.0 53.4L947.1 53.2L954.6 53.6L968.4 54.6L993.5 57.5L993.5 81.3L968.4 78.4L954.6 77.3L947.1 77.0L937.0 77.1L927.0 77.6L915.7 79.2L909.4 80.4L900.6 82.7L894.3 84.8L888.0 87.4L880.5 91.1L875.5 93.9L866.7 99.5L845.3 112.0L811.4 133.1L803.9 137.3L800.1 138.7L795.1 139.9L790.1 140.6L786.3 140.8L772.5 141.0L722.3 141.0Z" fill="url(#g3)"/><path d="M722.3 120.1L772.5 120.1L786.3 119.9L790.1 119.7L795.1 119.0L800.1 117.8L803.9 116.4L811.4 112.2L845.3 91.1L866.7 78.6L875.5 73.0L880.5 70.2L888.0 66.5L894.3 63.9L900.6 61.8L909.4 59.4L915.7 58.3L927.0 56.7L937.0 56.2L947.1 56.1L954.6 56.4L968.4 57.5L993.5 60.4L993.5 78.4L968.4 75.5L954.6 74.5L947.1 74.1L937.0 74.3L927.0 74.7L915.7 76.3L909.4 77.5L900.6 79.9L894.3 81.9L888.0 84.5L880.5 88.2L875.5 91.0L866.7 96.6L845.3 109.1L811.4 130.2L803.9 134.4L800.1 135.8L795.1 137.1L790.1 137.7L786.3 137.9L772.5 138.1L722.3 138.1Z" fill="url(#g4)"/><path d="M722.3 122.1L772.5 122.1L786.3 121.9L790.1 121.7L795.1 121.1L800.1 119.8L803.9 118.4L811.4 114.2L845.3 93.1L866.7 80.6L875.5 75.0L880.5 72.2L888.0 68.6L894.3 66.0L900.6 63.9L909.4 61.5L915.7 60.3L927.0 58.7L937.0 58.3L947.1 58.2L954.6 58.5L968.4 59.6L993.5 62.4L993.5 76.3L968.4 73.5L954.6 72.4L947.1 72.1L937.0 72.2L927.0 72.7L915.7 74.3L909.4 75.4L900.6 77.8L894.3 79.9L888.0 82.5L880.5 86.2L875.5 89.0L866.7 94.6L845.3 107.1L811.4 128.2L803.9 132.4L800.1 133.8L795.1 135.0L790.1 135.6L786.3 135.9L772.5 136.1L722.3 136.1Z" fill="url(#g5)"/><path d="M722.3 123.8L772.5 123.8L786.3 123.6L790.1 123.3L795.1 122.7L800.1 121.5L803.9 120.1L811.4 115.9L845.3 94.8L866.7 82.3L875.5 76.7L880.5 73.9L888.0 70.2L894.3 67.6L900.6 65.5L909.4 63.1L915.7 62.0L927.0 60.4L937.0 59.9L947.1 59.8L954.6 60.1L968.4 61.2L993.5 64.0L993.5 74.7L968.4 71.9L954.6 70.8L947.1 70.5L937.0 70.6L927.0 71.0L915.7 72.6L909.4 73.8L900.6 76.2L894.3 78.3L888.0 80.9L880.5 84.5L875.5 87.3L866.7 92.9L845.3 105.4L811.4 126.5L803.9 130.7L800.1 132.1L795.1 133.4L790.1 134.0L786.3 134.2L772.5 134.4L722.3 134.4Z" fill="url(#g6)"/><path d="M722.3 125.0L772.5 125.0L786.3 124.8L790.1 124.6L795.1 124.0L800.1 122.7L803.9 121.3L811.4 117.1L845.3 96.0L866.7 83.5L875.5 77.9L880.5 75.1L888.0 71.4L894.3 68.8L900.6 66.7L909.4 64.4L915.7 63.2L927.0 61.6L937.0 61.2L947.1 61.0L954.6 61.3L968.4 62.4L993.5 65.3L993.5 73.5L968.4 70.6L954.6 69.5L947.1 69.2L937.0 69.4L927.0 69.8L915.7 71.4L909.4 72.6L900.6 74.9L894.3 77.0L888.0 79.6L880.5 83.3L875.5 86.1L866.7 91.7L845.3 104.2L811.4 125.3L803.9 129.5L800.1 130.9L795.1 132.2L790.1 132.8L786.3 133.0L772.5 133.2L722.3 133.2Z" fill="url(#g7)"/><path d="M722.3 126.0L772.5 126.0L786.3 125.8L790.1 125.6L795.1 125.0L800.1 123.7L803.9 122.3L811.4 118.1L845.3 97.0L866.7 84.5L875.5 78.9L880.5 76.1L888.0 72.5L894.3 69.9L900.6 67.8L909.4 65.4L915.7 64.2L927.0 62.6L937.0 62.2L947.1 62.0L954.6 62.4L968.4 63.5L993.5 66.3L993.5 72.5L968.4 69.6L954.6 68.5L947.1 68.2L937.0 68.3L927.0 68.8L915.7 70.4L909.4 71.5L900.6 73.9L894.3 76.0L888.0 78.6L880.5 82.3L875.5 85.1L866.7 90.7L845.3 103.2L811.4 124.3L803.9 128.5L800.1 129.9L795.1 131.1L790.1 131.7L786.3 132.0L772.5 132.2L722.3 132.2Z" fill="url(#g8)"/><path d="M722.3 127.6L772.5 127.6L786.3 127.4L790.1 127.2L795.1 126.6L800.1 125.3L803.9 123.9L811.4 119.7L845.3 98.6L866.7 86.1L875.5 80.5L880.5 77.7L888.0 74.1L894.3 71.4L900.6 69.4L909.4 67.0L915.7 65.8L927.0 64.2L937.0 63.8L947.1 63.6L954.6 64.0L968.4 65.1L993.5 67.9L993.5 70.9L968.4 68.0L954.6 66.9L947.1 66.6L937.0 66.7L927.0 67.2L915.7 68.8L909.4 69.9L900.6 72.3L894.3 74.4L888.0 77.0L880.5 80.7L875.5 83.5L866.7 89.1L845.3 101.6L811.4 122.7L803.9 126.9L800.1 128.3L795.1 129.5L790.1 130.1L786.3 130.4L772.5 130.6L722.3 130.6Z" fill="url(#g9)"/><path d="M722.3 128.4L772.5 128.3L786.3 128.2L790.1 127.9L795.1 127.3L800.1 126.1L803.9 124.6L811.4 120.5L845.3 99.3L866.7 86.9L875.5 81.3L880.5 78.5L888.0 74.8L894.3 72.2L900.6 70.1L909.4 67.7L915.7 66.6L927.0 65.0L937.0 64.5L947.1 64.4L954.6 64.7L968.4 65.8L993.5 68.6L993.5 70.1L968.4 67.3L954.6 66.2L947.1 65.9L937.0 66.0L927.0 66.4L915.7 68.0L909.4 69.2L900.6 71.6L894.3 73.7L888.0 76.3L880.5 79.9L875.5 82.8L866.7 88.3L845.3 100.8L811.4 121.9L803.9 126.1L800.1 127.5L795.1 128.8L790.1 129.4L786.3 129.7L772.5 129.8L722.3 129.8Z" fill="url(#g10)"/><path d="M722.3 178.5L736.1 170.6L751.1 161.1L768.7 149.2L800.1 126.9L807.7 121.0L811.4 118.3L816.5 115.5L820.2 114.1L825.2 113.0L829.0 112.4L842.8 111.7L993.5 111.7L993.5 156.8L842.8 156.8L829.0 157.5L825.2 158.1L820.2 159.2L816.5 160.6L811.4 163.4L807.7 166.1L800.1 172.0L768.7 194.3L751.1 206.2L736.1 215.7L722.3 223.6Z" fill="url(#g11)"/><path d="M722.3 185.1L736.1 177.2L751.1 167.7L768.7 155.7L800.1 133.5L807.7 127.5L811.4 124.8L816.5 122.0L820.2 120.6L825.2 119.5L829.0 119.0L842.8 118.3L993.5 118.3L993.5 150.3L842.8 150.3L829.0 151.0L825.2 151.5L820.2 152.6L816.5 154.0L811.4 156.8L807.7 159.5L800.1 165.5L768.7 187.7L751.1 199.7L736.1 209.2L722.3 217.1Z" fill="url(#g12)"/><path d="M722.3 189.2L736.1 181.3L751.1 171.8L768.7 159.8L800.1 137.6L807.7 131.6L811.4 128.9L816.5 126.1L820.2 124.7L825.2 123.6L829.0 123.1L842.8 122.4L993.5 122.4L993.5 146.2L842.8 146.2L829.0 146.9L825.2 147.4L820.2 148.5L816.5 149.9L811.4 152.7L807.7 155.4L800.1 161.4L768.7 183.6L751.1 195.6L736.1 205.1L722.3 213.0Z" fill="url(#g13)"/><path d="M722.3 192.0L736.1 184.2L751.1 174.7L768.7 162.7L800.1 140.5L807.7 134.5L811.4 131.8L816.5 129.0L820.2 127.6L825.2 126.5L829.0 126.0L842.8 125.3L993.5 125.2L993.5 143.3L842.8 143.3L829.0 144.0L825.2 144.5L820.2 145.6L816.5 147.0L811.4 149.8L807.7 152.5L800.1 158.5L768.7 180.8L751.1 192.7L736.1 202.2L722.3 210.1Z" fill="url(#g14)"/><path d="M722.3 194.1L736.1 186.2L751.1 176.7L768.7 164.8L800.1 142.5L807.7 136.6L811.4 133.8L816.5 131.1L820.2 129.6L825.2 128.6L829.0 128.0L842.8 127.3L993.5 127.3L993.5 141.2L842.8 141.3L829.0 142.0L825.2 142.5L820.2 143.6L816.5 145.0L811.4 147.8L807.7 150.5L800.1 156.4L768.7 178.7L751.1 190.7L736.1 200.2L722.3 208.0Z" fill="url(#g15)"/><path d="M722.3 195.7L736.1 187.9L751.1 178.4L768.7 166.4L800.1 144.1L807.7 138.2L811.4 135.5L816.5 132.7L820.2 131.3L825.2 130.2L829.0 129.7L842.8 129.0L993.5 128.9L993.5 139.6L842.8 139.6L829.0 140.3L825.2 140.9L820.2 141.9L816.5 143.4L811.4 146.1L807.7 148.9L800.1 154.8L768.7 177.1L751.1 189.0L736.1 198.5L722.3 206.4Z" fill="url(#g16)"/><path d="M722.3 197.0L736.1 189.1L751.1 179.6L768.7 167.6L800.1 145.4L807.7 139.4L811.4 136.7L816.5 133.9L820.2 132.5L825.2 131.4L829.0 130.9L842.8 130.2L993.5 130.2L993.5 138.4L842.8 138.4L829.0 139.1L825.2 139.6L820.2 140.7L816.5 142.1L811.4 144.9L807.7 147.6L800.1 153.6L768.7 175.8L751.1 187.8L736.1 197.3L722.3 205.2Z" fill="url(#g17)"/><path d="M722.3 198.0L736.1 190.1L751.1 180.6L768.7 168.7L800.1 146.4L807.7 140.5L811.4 137.7L816.5 135.0L820.2 133.5L825.2 132.4L829.0 131.9L842.8 131.2L993.5 131.2L993.5 137.3L842.8 137.4L829.0 138.1L825.2 138.6L820.2 139.7L816.5 141.1L811.4 143.9L807.7 146.6L800.1 152.6L768.7 174.8L751.1 186.8L736.1 196.3L722.3 204.1Z" fill="url(#g18)"/><path d="M722.3 199.6L736.1 191.7L751.1 182.2L768.7 170.3L800.1 148.0L807.7 142.1L811.4 139.3L816.5 136.5L820.2 135.1L825.2 134.0L829.0 133.5L842.8 132.8L993.5 132.8L993.5 135.7L842.8 135.8L829.0 136.5L825.2 137.0L820.2 138.1L816.5 139.5L811.4 142.3L807.7 145.0L800.1 151.0L768.7 173.2L751.1 185.2L736.1 194.7L722.3 202.5Z" fill="url(#g19)"/><path d="M722.3 200.3L736.1 192.4L751.1 182.9L768.7 171.0L800.1 148.7L807.7 142.8L811.4 140.1L816.5 137.3L820.2 135.9L825.2 134.8L829.0 134.3L842.8 133.5L993.5 133.5L993.5 135.0L842.8 135.0L829.0 135.7L825.2 136.3L820.2 137.4L816.5 138.8L811.4 141.5L807.7 144.3L800.1 150.2L768.7 172.5L751.1 184.4L736.1 193.9L722.3 201.8Z" fill="url(#g20)"/><path d="M722.3 195.2L993.5 195.2L993.5 222.6L722.3 222.6Z" fill="url(#g21)"/><path d="M722.3 198.8L993.5 198.8L993.5 219.1L722.3 219.1Z" fill="url(#g22)"/><path d="M722.3 201.2L993.5 201.2L993.5 216.6L722.3 216.6Z" fill="url(#g23)"/><path d="M722.3 203.0L993.5 203.0L993.5 214.8L722.3 214.8Z" fill="url(#g24)"/><path d="M722.3 204.3L993.5 204.3L993.5 213.5L722.3 213.5Z" fill="url(#g25)"/><path d="M722.3 205.4L993.5 205.4L993.5 212.4L722.3 212.4Z" fill="url(#g26)"/><path d="M722.3 206.3L993.5 206.3L993.5 211.5L722.3 211.5Z" fill="url(#g27)"/><path d="M722.3 207.0L993.5 207.0L993.5 210.8L722.3 210.8Z" fill="url(#g28)"/><path d="M722.3 208.3L993.5 208.3L993.5 209.5L722.3 209.5Z" fill="url(#g29)"/><path d="M722.3 186.4L732.3 186.4L795.1 189.2L993.5 189.2L993.5 217.8L795.1 217.8L732.3 215.0L722.3 215.0Z" fill="url(#g30)"/><path d="M722.3 190.6L732.3 190.6L795.1 193.4L993.5 193.4L993.5 213.6L795.1 213.6L732.3 210.9L722.3 210.9Z" fill="url(#g31)"/><path d="M722.3 193.2L732.3 193.2L795.1 196.0L993.5 196.0L993.5 211.0L795.1 211.0L732.3 208.3L722.3 208.3Z" fill="url(#g32)"/><path d="M722.3 195.0L732.3 195.0L795.1 197.8L993.5 197.8L993.5 209.2L795.1 209.2L732.3 206.5L722.3 206.5Z" fill="url(#g33)"/><path d="M722.3 196.3L732.3 196.3L795.1 199.1L993.5 199.1L993.5 207.9L795.1 207.9L732.3 205.2L722.3 205.2Z" fill="url(#g34)"/><path d="M722.3 197.4L732.3 197.4L795.1 200.1L993.5 200.1L993.5 206.9L795.1 206.9L732.3 204.1L722.3 204.1Z" fill="url(#g35)"/><path d="M722.3 198.1L732.3 198.1L795.1 200.9L993.5 200.9L993.5 206.1L795.1 206.1L732.3 203.3L722.3 203.3Z" fill="url(#g36)"/><path d="M722.3 198.8L732.3 198.8L795.1 201.5L993.5 201.5L993.5 205.4L795.1 205.4L732.3 202.7L722.3 202.7Z" fill="url(#g37)"/><path d="M722.3 200.3L732.3 200.3L795.1 203.0L993.5 203.0L993.5 204.0L795.1 204.0L732.3 201.2L722.3 201.2Z" fill="url(#g38)"/></g>
<use href="#q" transform="translate(1715.80 0) scale(-1 1)"/>
<use href="#q" transform="translate(0 417.80) scale(1 -1)"/>
<use href="#q" transform="translate(1715.80 417.80) scale(-1 -1)"/>
</g></g>
<text transform="translate(732.30 385.80) scale(1.200 1)" text-anchor="middle" font-size="15.6" fill="#262626">0.0</text>
<text transform="translate(795.10 385.80) scale(1.200 1)" text-anchor="middle" font-size="15.6" fill="#262626">0.5</text>
<text transform="translate(857.90 385.80) scale(1.200 1)" text-anchor="middle" font-size="15.6" fill="#262626">1.0</text>
<text transform="translate(920.70 385.80) scale(1.200 1)" text-anchor="middle" font-size="15.6" fill="#262626">1.5</text>
<text transform="translate(983.50 385.80) scale(1.200 1)" text-anchor="middle" font-size="15.6" fill="#262626">2.0</text>
<text transform="translate(727.20 371.10) scale(1.220 1)" text-anchor="end" font-size="15.6" fill="#262626">-1.0</text>
<text transform="translate(727.20 292.70) scale(1.220 1)" text-anchor="end" font-size="15.6" fill="#262626">-0.5</text>
<text transform="translate(727.20 214.30) scale(1.220 1)" text-anchor="end" font-size="15.6" fill="#262626">0.0</text>
<text transform="translate(727.20 135.90) scale(1.220 1)" text-anchor="end" font-size="15.6" fill="#262626">0.5</text>
<text transform="translate(727.20 57.50) scale(1.220 1)" text-anchor="end" font-size="15.6" fill="#262626">1.0</text>
<text transform="translate(858.00 409.50) scale(1.300 1)" text-anchor="middle" font-size="18" fill="#262626"><tspan font-style="italic">ϕ</tspan><tspan font-size="21" dy="1.5">/</tspan><tspan font-style="italic" dy="-1.5">π</tspan></text>
<text transform="translate(689.50 208.50) rotate(-90) scale(1.350 1)" text-anchor="middle" font-size="17.5" fill="#262626"><tspan font-style="italic">E</tspan><tspan font-size="21" dy="1.5">/</tspan><tspan dy="-1.5">Δ</tspan><tspan font-size="12" dy="3.5">0</tspan></text>
<text transform="translate(959.50 95.90) scale(1.080 1)" text-anchor="middle" font-size="23" fill="#fff" font-weight="bold"><tspan font-size="26" dy="0.7">(</tspan><tspan dy="-0.7">c</tspan><tspan font-size="26" dy="0.7">)</tspan></text>
<defs><linearGradient id="cb" x1="0" y1="0" x2="1" y2="0"><stop offset="0.0000" stop-color="rgb(0,0,128)"/><stop offset="0.0312" stop-color="rgb(0,0,159)"/><stop offset="0.0625" stop-color="rgb(0,0,191)"/><stop offset="0.0938" stop-color="rgb(0,0,223)"/><stop offset="0.1250" stop-color="rgb(0,0,255)"/><stop offset="0.1562" stop-color="rgb(0,32,255)"/><stop offset="0.1875" stop-color="rgb(0,64,255)"/><stop offset="0.2188" stop-color="rgb(0,96,255)"/><stop offset="0.2500" stop-color="rgb(0,128,255)"/><stop offset="0.2812" stop-color="rgb(0,159,255)"/><stop offset="0.3125" stop-color="rgb(0,191,255)"/><stop offset="0.3438" stop-color="rgb(0,223,255)"/><stop offset="0.3750" stop-color="rgb(0,255,255)"/><stop offset="0.4062" stop-color="rgb(32,255,223)"/><stop offset="0.4375" stop-color="rgb(64,255,191)"/><stop offset="0.4688" stop-color="rgb(96,255,159)"/><stop offset="0.5000" stop-color="rgb(128,255,128)"/><stop offset="0.5312" stop-color="rgb(159,255,96)"/><stop offset="0.5625" stop-color="rgb(191,255,64)"/><stop offset="0.5938" stop-color="rgb(223,255,32)"/><stop offset="0.6250" stop-color="rgb(255,255,0)"/><stop offset="0.6562" stop-color="rgb(255,223,0)"/><stop offset="0.6875" stop-color="rgb(255,191,0)"/><stop offset="0.7188" stop-color="rgb(255,159,0)"/><stop offset="0.7500" stop-color="rgb(255,128,0)"/><stop offset="0.7812" stop-color="rgb(255,96,0)"/><stop offset="0.8125" stop-color="rgb(255,64,0)"/><stop offset="0.8438" stop-color="rgb(255,32,0)"/><stop offset="0.8750" stop-color="rgb(255,0,0)"/><stop offset="0.9062" stop-color="rgb(223,0,0)"/><stop offset="0.9375" stop-color="rgb(191,0,0)"/><stop offset="0.9688" stop-color="rgb(159,0,0)"/><stop offset="1.0000" stop-color="rgb(128,0,0)"/></linearGradient></defs>
<rect x="732.6" y="24.2" width="138.2" height="14.6" fill="url(#cb)" stroke="#262626" stroke-width="0.7"/>
<text transform="translate(732.00 15.20) scale(1.050 1)" text-anchor="start" font-size="19.6" fill="#262626">Min</text>
<text transform="translate(871.00 15.20) scale(1.080 1)" text-anchor="end" font-size="19.6" fill="#262626">Max</text>
<text transform="translate(877.00 38.90) scale(1.070 1)" text-anchor="start" font-size="22.6" fill="#262626">DOS (a.u.)</text>
</svg></body></html>
